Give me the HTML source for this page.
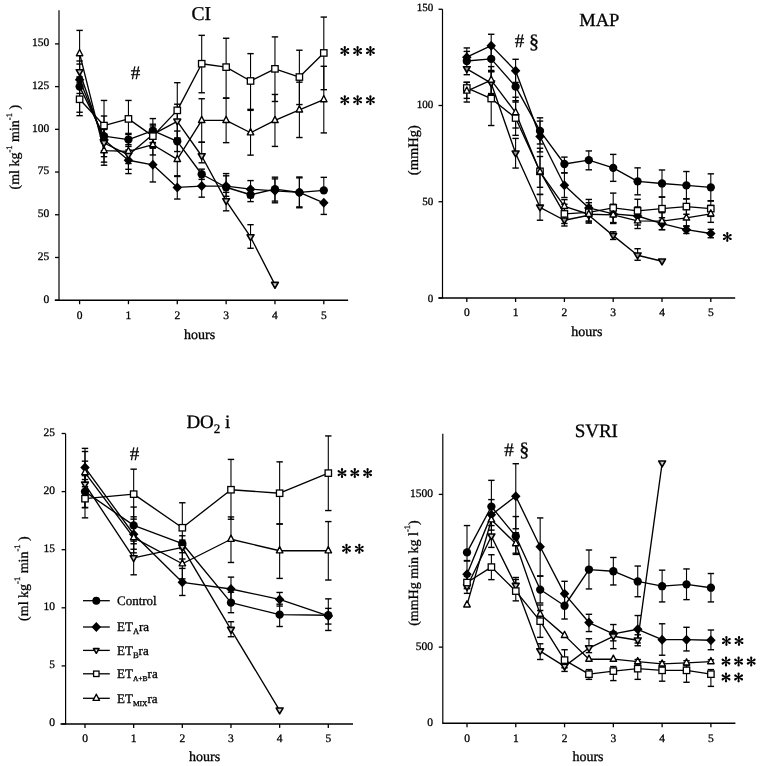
<!DOCTYPE html><html><head><meta charset="utf-8"><style>html,body{margin:0;padding:0;background:#fff;overflow:hidden;}svg{display:block;}text{font-family:"Liberation Serif", serif;fill:#000;stroke:#000;stroke-width:0.3px;text-rendering:geometricPrecision;}svg{will-change:transform;}</style></head><body>
<svg width="761" height="766" viewBox="0 0 761 766">
<rect width="761" height="766" fill="#fff"/>
<line x1="59.00" y1="10.20" x2="59.00" y2="300.80" stroke="#000" stroke-width="1.2"/>
<line x1="54.80" y1="300.20" x2="348.10" y2="300.20" stroke="#000" stroke-width="1.5"/>
<line x1="55.00" y1="300.20" x2="59.00" y2="300.20" stroke="#000" stroke-width="1.3"/>
<line x1="55.00" y1="257.48" x2="59.00" y2="257.48" stroke="#000" stroke-width="1.3"/>
<line x1="55.00" y1="214.76" x2="59.00" y2="214.76" stroke="#000" stroke-width="1.3"/>
<line x1="55.00" y1="172.05" x2="59.00" y2="172.05" stroke="#000" stroke-width="1.3"/>
<line x1="55.00" y1="129.33" x2="59.00" y2="129.33" stroke="#000" stroke-width="1.3"/>
<line x1="55.00" y1="86.61" x2="59.00" y2="86.61" stroke="#000" stroke-width="1.3"/>
<line x1="55.00" y1="43.89" x2="59.00" y2="43.89" stroke="#000" stroke-width="1.3"/>
<text x="49.20" y="302.61" font-size="11.5" text-anchor="end" >0</text>
<text x="49.20" y="259.89" font-size="11.5" text-anchor="end" >25</text>
<text x="49.20" y="217.17" font-size="11.5" text-anchor="end" >50</text>
<text x="49.20" y="174.46" font-size="11.5" text-anchor="end" >75</text>
<text x="49.20" y="131.74" font-size="11.5" text-anchor="end" >100</text>
<text x="49.20" y="89.02" font-size="11.5" text-anchor="end" >125</text>
<text x="49.20" y="46.30" font-size="11.5" text-anchor="end" >150</text>
<line x1="79.60" y1="300.20" x2="79.60" y2="304.20" stroke="#000" stroke-width="1.3"/>
<text x="79.60" y="319.00" font-size="11.5" text-anchor="middle" >0</text>
<line x1="128.44" y1="300.20" x2="128.44" y2="304.20" stroke="#000" stroke-width="1.3"/>
<text x="128.44" y="319.00" font-size="11.5" text-anchor="middle" >1</text>
<line x1="177.28" y1="300.20" x2="177.28" y2="304.20" stroke="#000" stroke-width="1.3"/>
<text x="177.28" y="319.00" font-size="11.5" text-anchor="middle" >2</text>
<line x1="226.12" y1="300.20" x2="226.12" y2="304.20" stroke="#000" stroke-width="1.3"/>
<text x="226.12" y="319.00" font-size="11.5" text-anchor="middle" >3</text>
<line x1="274.96" y1="300.20" x2="274.96" y2="304.20" stroke="#000" stroke-width="1.3"/>
<text x="274.96" y="319.00" font-size="11.5" text-anchor="middle" >4</text>
<line x1="323.80" y1="300.20" x2="323.80" y2="304.20" stroke="#000" stroke-width="1.3"/>
<text x="323.80" y="319.00" font-size="11.5" text-anchor="middle" >5</text>
<text x="199.60" y="338.70" font-size="14" text-anchor="middle" >hours</text>
<text x="201.20" y="19.70" font-size="19.5" text-anchor="middle" >CI</text>
<text transform="translate(19.40,147.20) rotate(-90)" font-size="14" text-anchor="middle">(ml kg<tspan font-size="8.5" dy="-7.5">-1</tspan><tspan dy="7.5"> min</tspan><tspan font-size="8.5" dy="-7.5">-1</tspan><tspan dy="7.5"> )</tspan></text>
<text x="135.50" y="78.60" font-size="19" text-anchor="middle" >#</text>
<path d="M345.15,51.00L345.95,47.15A1.15,1.15 0 0 0 343.65,47.15L344.45,51.00ZM344.98,50.70L342.04,48.08A1.15,1.15 0 0 0 340.89,50.07L344.62,51.30ZM344.62,50.70L340.89,51.93A1.15,1.15 0 0 0 342.04,53.92L344.98,51.30ZM344.45,51.00L343.65,54.85A1.15,1.15 0 0 0 345.95,54.85L345.15,51.00ZM344.62,51.30L347.56,53.92A1.15,1.15 0 0 0 348.71,51.93L344.98,50.70ZM344.98,51.30L348.71,50.07A1.15,1.15 0 0 0 347.56,48.08L344.62,50.70Z" fill="#000"/>
<path d="M357.95,51.00L358.75,47.15A1.15,1.15 0 0 0 356.45,47.15L357.25,51.00ZM357.78,50.70L354.84,48.08A1.15,1.15 0 0 0 353.69,50.07L357.43,51.30ZM357.43,50.70L353.69,51.93A1.15,1.15 0 0 0 354.84,53.92L357.78,51.30ZM357.25,51.00L356.45,54.85A1.15,1.15 0 0 0 358.75,54.85L357.95,51.00ZM357.43,51.30L360.36,53.92A1.15,1.15 0 0 0 361.51,51.93L357.78,50.70ZM357.78,51.30L361.51,50.07A1.15,1.15 0 0 0 360.36,48.08L357.43,50.70Z" fill="#000"/>
<path d="M370.75,51.00L371.55,47.15A1.15,1.15 0 0 0 369.25,47.15L370.05,51.00ZM370.58,50.70L367.64,48.08A1.15,1.15 0 0 0 366.49,50.07L370.23,51.30ZM370.23,50.70L366.49,51.93A1.15,1.15 0 0 0 367.64,53.92L370.58,51.30ZM370.05,51.00L369.25,54.85A1.15,1.15 0 0 0 371.55,54.85L370.75,51.00ZM370.23,51.30L373.16,53.92A1.15,1.15 0 0 0 374.31,51.93L370.58,50.70ZM370.58,51.30L374.31,50.07A1.15,1.15 0 0 0 373.16,48.08L370.23,50.70Z" fill="#000"/>
<path d="M345.15,100.20L345.95,96.35A1.15,1.15 0 0 0 343.65,96.35L344.45,100.20ZM344.98,99.90L342.04,97.28A1.15,1.15 0 0 0 340.89,99.27L344.62,100.50ZM344.62,99.90L340.89,101.13A1.15,1.15 0 0 0 342.04,103.12L344.98,100.50ZM344.45,100.20L343.65,104.05A1.15,1.15 0 0 0 345.95,104.05L345.15,100.20ZM344.62,100.50L347.56,103.12A1.15,1.15 0 0 0 348.71,101.13L344.98,99.90ZM344.98,100.50L348.71,99.27A1.15,1.15 0 0 0 347.56,97.28L344.62,99.90Z" fill="#000"/>
<path d="M357.95,100.20L358.75,96.35A1.15,1.15 0 0 0 356.45,96.35L357.25,100.20ZM357.78,99.90L354.84,97.28A1.15,1.15 0 0 0 353.69,99.27L357.43,100.50ZM357.43,99.90L353.69,101.13A1.15,1.15 0 0 0 354.84,103.12L357.78,100.50ZM357.25,100.20L356.45,104.05A1.15,1.15 0 0 0 358.75,104.05L357.95,100.20ZM357.43,100.50L360.36,103.12A1.15,1.15 0 0 0 361.51,101.13L357.78,99.90ZM357.78,100.50L361.51,99.27A1.15,1.15 0 0 0 360.36,97.28L357.43,99.90Z" fill="#000"/>
<path d="M370.75,100.20L371.55,96.35A1.15,1.15 0 0 0 369.25,96.35L370.05,100.20ZM370.58,99.90L367.64,97.28A1.15,1.15 0 0 0 366.49,99.27L370.23,100.50ZM370.23,99.90L366.49,101.13A1.15,1.15 0 0 0 367.64,103.12L370.58,100.50ZM370.05,100.20L369.25,104.05A1.15,1.15 0 0 0 371.55,104.05L370.75,100.20ZM370.23,100.50L373.16,103.12A1.15,1.15 0 0 0 374.31,101.13L370.58,99.90ZM370.58,100.50L374.31,99.27A1.15,1.15 0 0 0 373.16,97.28L370.23,99.90Z" fill="#000"/>
<line x1="79.60" y1="86.61" x2="79.60" y2="78.07" stroke="#000" stroke-width="1.1"/>
<line x1="76.40" y1="78.07" x2="82.80" y2="78.07" stroke="#000" stroke-width="1.4"/>
<line x1="79.60" y1="86.61" x2="79.60" y2="112.24" stroke="#000" stroke-width="1.1"/>
<line x1="76.40" y1="112.24" x2="82.80" y2="112.24" stroke="#000" stroke-width="1.4"/>
<line x1="104.02" y1="136.16" x2="104.02" y2="116.00" stroke="#000" stroke-width="1.1"/>
<line x1="100.82" y1="116.00" x2="107.22" y2="116.00" stroke="#000" stroke-width="1.4"/>
<line x1="104.02" y1="136.16" x2="104.02" y2="143.00" stroke="#000" stroke-width="1.1"/>
<line x1="100.82" y1="143.00" x2="107.22" y2="143.00" stroke="#000" stroke-width="1.4"/>
<line x1="128.44" y1="139.58" x2="128.44" y2="134.46" stroke="#000" stroke-width="1.1"/>
<line x1="125.24" y1="134.46" x2="131.64" y2="134.46" stroke="#000" stroke-width="1.4"/>
<line x1="128.44" y1="139.58" x2="128.44" y2="144.71" stroke="#000" stroke-width="1.1"/>
<line x1="125.24" y1="144.71" x2="131.64" y2="144.71" stroke="#000" stroke-width="1.4"/>
<line x1="152.86" y1="130.53" x2="152.86" y2="118.57" stroke="#000" stroke-width="1.1"/>
<line x1="149.66" y1="118.57" x2="156.06" y2="118.57" stroke="#000" stroke-width="1.4"/>
<line x1="152.86" y1="130.53" x2="152.86" y2="142.49" stroke="#000" stroke-width="1.1"/>
<line x1="149.66" y1="142.49" x2="156.06" y2="142.49" stroke="#000" stroke-width="1.4"/>
<line x1="177.28" y1="141.29" x2="177.28" y2="131.04" stroke="#000" stroke-width="1.1"/>
<line x1="174.08" y1="131.04" x2="180.48" y2="131.04" stroke="#000" stroke-width="1.4"/>
<line x1="177.28" y1="141.29" x2="177.28" y2="151.54" stroke="#000" stroke-width="1.1"/>
<line x1="174.08" y1="151.54" x2="180.48" y2="151.54" stroke="#000" stroke-width="1.4"/>
<line x1="201.70" y1="174.27" x2="201.70" y2="169.14" stroke="#000" stroke-width="1.1"/>
<line x1="198.50" y1="169.14" x2="204.90" y2="169.14" stroke="#000" stroke-width="1.4"/>
<line x1="201.70" y1="174.27" x2="201.70" y2="179.39" stroke="#000" stroke-width="1.1"/>
<line x1="198.50" y1="179.39" x2="204.90" y2="179.39" stroke="#000" stroke-width="1.4"/>
<line x1="226.12" y1="187.25" x2="226.12" y2="173.59" stroke="#000" stroke-width="1.1"/>
<line x1="222.92" y1="173.59" x2="229.32" y2="173.59" stroke="#000" stroke-width="1.4"/>
<line x1="250.54" y1="194.77" x2="250.54" y2="187.94" stroke="#000" stroke-width="1.1"/>
<line x1="247.34" y1="187.94" x2="253.74" y2="187.94" stroke="#000" stroke-width="1.4"/>
<line x1="250.54" y1="194.77" x2="250.54" y2="201.61" stroke="#000" stroke-width="1.1"/>
<line x1="247.34" y1="201.61" x2="253.74" y2="201.61" stroke="#000" stroke-width="1.4"/>
<line x1="274.96" y1="189.13" x2="274.96" y2="177.17" stroke="#000" stroke-width="1.1"/>
<line x1="271.76" y1="177.17" x2="278.16" y2="177.17" stroke="#000" stroke-width="1.4"/>
<line x1="274.96" y1="189.13" x2="274.96" y2="201.10" stroke="#000" stroke-width="1.1"/>
<line x1="271.76" y1="201.10" x2="278.16" y2="201.10" stroke="#000" stroke-width="1.4"/>
<line x1="299.38" y1="192.38" x2="299.38" y2="177.00" stroke="#000" stroke-width="1.1"/>
<line x1="296.18" y1="177.00" x2="302.58" y2="177.00" stroke="#000" stroke-width="1.4"/>
<line x1="299.38" y1="192.38" x2="299.38" y2="207.76" stroke="#000" stroke-width="1.1"/>
<line x1="296.18" y1="207.76" x2="302.58" y2="207.76" stroke="#000" stroke-width="1.4"/>
<line x1="323.80" y1="190.33" x2="323.80" y2="177.34" stroke="#000" stroke-width="1.1"/>
<line x1="320.60" y1="177.34" x2="327.00" y2="177.34" stroke="#000" stroke-width="1.4"/>
<line x1="79.60" y1="79.78" x2="79.60" y2="60.98" stroke="#000" stroke-width="1.1"/>
<line x1="76.40" y1="60.98" x2="82.80" y2="60.98" stroke="#000" stroke-width="1.4"/>
<line x1="79.60" y1="79.78" x2="79.60" y2="93.45" stroke="#000" stroke-width="1.1"/>
<line x1="76.40" y1="93.45" x2="82.80" y2="93.45" stroke="#000" stroke-width="1.4"/>
<line x1="104.02" y1="139.75" x2="104.02" y2="129.50" stroke="#000" stroke-width="1.1"/>
<line x1="100.82" y1="129.50" x2="107.22" y2="129.50" stroke="#000" stroke-width="1.4"/>
<line x1="104.02" y1="139.75" x2="104.02" y2="165.21" stroke="#000" stroke-width="1.1"/>
<line x1="100.82" y1="165.21" x2="107.22" y2="165.21" stroke="#000" stroke-width="1.4"/>
<line x1="128.44" y1="160.26" x2="128.44" y2="150.01" stroke="#000" stroke-width="1.1"/>
<line x1="125.24" y1="150.01" x2="131.64" y2="150.01" stroke="#000" stroke-width="1.4"/>
<line x1="128.44" y1="160.26" x2="128.44" y2="173.59" stroke="#000" stroke-width="1.1"/>
<line x1="125.24" y1="173.59" x2="131.64" y2="173.59" stroke="#000" stroke-width="1.4"/>
<line x1="152.86" y1="164.87" x2="152.86" y2="147.78" stroke="#000" stroke-width="1.1"/>
<line x1="149.66" y1="147.78" x2="156.06" y2="147.78" stroke="#000" stroke-width="1.4"/>
<line x1="152.86" y1="164.87" x2="152.86" y2="181.96" stroke="#000" stroke-width="1.1"/>
<line x1="149.66" y1="181.96" x2="156.06" y2="181.96" stroke="#000" stroke-width="1.4"/>
<line x1="177.28" y1="187.43" x2="177.28" y2="175.81" stroke="#000" stroke-width="1.1"/>
<line x1="174.08" y1="175.81" x2="180.48" y2="175.81" stroke="#000" stroke-width="1.4"/>
<line x1="177.28" y1="187.43" x2="177.28" y2="199.04" stroke="#000" stroke-width="1.1"/>
<line x1="174.08" y1="199.04" x2="180.48" y2="199.04" stroke="#000" stroke-width="1.4"/>
<line x1="201.70" y1="186.06" x2="201.70" y2="174.95" stroke="#000" stroke-width="1.1"/>
<line x1="198.50" y1="174.95" x2="204.90" y2="174.95" stroke="#000" stroke-width="1.4"/>
<line x1="201.70" y1="186.06" x2="201.70" y2="197.17" stroke="#000" stroke-width="1.1"/>
<line x1="198.50" y1="197.17" x2="204.90" y2="197.17" stroke="#000" stroke-width="1.4"/>
<line x1="226.12" y1="186.06" x2="226.12" y2="175.81" stroke="#000" stroke-width="1.1"/>
<line x1="222.92" y1="175.81" x2="229.32" y2="175.81" stroke="#000" stroke-width="1.4"/>
<line x1="226.12" y1="186.06" x2="226.12" y2="196.31" stroke="#000" stroke-width="1.1"/>
<line x1="222.92" y1="196.31" x2="229.32" y2="196.31" stroke="#000" stroke-width="1.4"/>
<line x1="250.54" y1="189.13" x2="250.54" y2="180.59" stroke="#000" stroke-width="1.1"/>
<line x1="247.34" y1="180.59" x2="253.74" y2="180.59" stroke="#000" stroke-width="1.4"/>
<line x1="250.54" y1="189.13" x2="250.54" y2="197.68" stroke="#000" stroke-width="1.1"/>
<line x1="247.34" y1="197.68" x2="253.74" y2="197.68" stroke="#000" stroke-width="1.4"/>
<line x1="274.96" y1="190.84" x2="274.96" y2="178.88" stroke="#000" stroke-width="1.1"/>
<line x1="271.76" y1="178.88" x2="278.16" y2="178.88" stroke="#000" stroke-width="1.4"/>
<line x1="274.96" y1="190.84" x2="274.96" y2="202.80" stroke="#000" stroke-width="1.1"/>
<line x1="271.76" y1="202.80" x2="278.16" y2="202.80" stroke="#000" stroke-width="1.4"/>
<line x1="299.38" y1="192.38" x2="299.38" y2="177.86" stroke="#000" stroke-width="1.1"/>
<line x1="296.18" y1="177.86" x2="302.58" y2="177.86" stroke="#000" stroke-width="1.4"/>
<line x1="299.38" y1="192.38" x2="299.38" y2="206.90" stroke="#000" stroke-width="1.1"/>
<line x1="296.18" y1="206.90" x2="302.58" y2="206.90" stroke="#000" stroke-width="1.4"/>
<line x1="323.80" y1="202.80" x2="323.80" y2="214.42" stroke="#000" stroke-width="1.1"/>
<line x1="320.60" y1="214.42" x2="327.00" y2="214.42" stroke="#000" stroke-width="1.4"/>
<line x1="79.60" y1="71.92" x2="79.60" y2="64.06" stroke="#000" stroke-width="1.1"/>
<line x1="76.40" y1="64.06" x2="82.80" y2="64.06" stroke="#000" stroke-width="1.4"/>
<line x1="79.60" y1="71.92" x2="79.60" y2="79.78" stroke="#000" stroke-width="1.1"/>
<line x1="76.40" y1="79.78" x2="82.80" y2="79.78" stroke="#000" stroke-width="1.4"/>
<line x1="104.02" y1="143.00" x2="104.02" y2="129.33" stroke="#000" stroke-width="1.1"/>
<line x1="100.82" y1="129.33" x2="107.22" y2="129.33" stroke="#000" stroke-width="1.4"/>
<line x1="104.02" y1="143.00" x2="104.02" y2="156.67" stroke="#000" stroke-width="1.1"/>
<line x1="100.82" y1="156.67" x2="107.22" y2="156.67" stroke="#000" stroke-width="1.4"/>
<line x1="128.44" y1="154.96" x2="128.44" y2="146.42" stroke="#000" stroke-width="1.1"/>
<line x1="125.24" y1="146.42" x2="131.64" y2="146.42" stroke="#000" stroke-width="1.4"/>
<line x1="128.44" y1="154.96" x2="128.44" y2="163.50" stroke="#000" stroke-width="1.1"/>
<line x1="125.24" y1="163.50" x2="131.64" y2="163.50" stroke="#000" stroke-width="1.4"/>
<line x1="152.86" y1="134.46" x2="152.86" y2="125.91" stroke="#000" stroke-width="1.1"/>
<line x1="149.66" y1="125.91" x2="156.06" y2="125.91" stroke="#000" stroke-width="1.4"/>
<line x1="152.86" y1="134.46" x2="152.86" y2="143.00" stroke="#000" stroke-width="1.1"/>
<line x1="149.66" y1="143.00" x2="156.06" y2="143.00" stroke="#000" stroke-width="1.4"/>
<line x1="177.28" y1="121.30" x2="177.28" y2="104.21" stroke="#000" stroke-width="1.1"/>
<line x1="174.08" y1="104.21" x2="180.48" y2="104.21" stroke="#000" stroke-width="1.4"/>
<line x1="177.28" y1="121.30" x2="177.28" y2="138.39" stroke="#000" stroke-width="1.1"/>
<line x1="174.08" y1="138.39" x2="180.48" y2="138.39" stroke="#000" stroke-width="1.4"/>
<line x1="201.70" y1="155.99" x2="201.70" y2="142.32" stroke="#000" stroke-width="1.1"/>
<line x1="198.50" y1="142.32" x2="204.90" y2="142.32" stroke="#000" stroke-width="1.4"/>
<line x1="201.70" y1="155.99" x2="201.70" y2="162.82" stroke="#000" stroke-width="1.1"/>
<line x1="198.50" y1="162.82" x2="204.90" y2="162.82" stroke="#000" stroke-width="1.4"/>
<line x1="226.12" y1="200.92" x2="226.12" y2="192.38" stroke="#000" stroke-width="1.1"/>
<line x1="222.92" y1="192.38" x2="229.32" y2="192.38" stroke="#000" stroke-width="1.4"/>
<line x1="226.12" y1="200.92" x2="226.12" y2="210.83" stroke="#000" stroke-width="1.1"/>
<line x1="222.92" y1="210.83" x2="229.32" y2="210.83" stroke="#000" stroke-width="1.4"/>
<line x1="250.54" y1="236.98" x2="250.54" y2="224.68" stroke="#000" stroke-width="1.1"/>
<line x1="247.34" y1="224.68" x2="253.74" y2="224.68" stroke="#000" stroke-width="1.4"/>
<line x1="250.54" y1="236.98" x2="250.54" y2="248.26" stroke="#000" stroke-width="1.1"/>
<line x1="247.34" y1="248.26" x2="253.74" y2="248.26" stroke="#000" stroke-width="1.4"/>
<line x1="79.60" y1="99.26" x2="79.60" y2="82.85" stroke="#000" stroke-width="1.1"/>
<line x1="76.40" y1="82.85" x2="82.80" y2="82.85" stroke="#000" stroke-width="1.4"/>
<line x1="79.60" y1="99.26" x2="79.60" y2="115.66" stroke="#000" stroke-width="1.1"/>
<line x1="76.40" y1="115.66" x2="82.80" y2="115.66" stroke="#000" stroke-width="1.4"/>
<line x1="104.02" y1="125.57" x2="104.02" y2="100.45" stroke="#000" stroke-width="1.1"/>
<line x1="100.82" y1="100.45" x2="107.22" y2="100.45" stroke="#000" stroke-width="1.4"/>
<line x1="104.02" y1="125.57" x2="104.02" y2="150.69" stroke="#000" stroke-width="1.1"/>
<line x1="100.82" y1="150.69" x2="107.22" y2="150.69" stroke="#000" stroke-width="1.4"/>
<line x1="128.44" y1="118.91" x2="128.44" y2="100.45" stroke="#000" stroke-width="1.1"/>
<line x1="125.24" y1="100.45" x2="131.64" y2="100.45" stroke="#000" stroke-width="1.4"/>
<line x1="128.44" y1="118.91" x2="128.44" y2="137.36" stroke="#000" stroke-width="1.1"/>
<line x1="125.24" y1="137.36" x2="131.64" y2="137.36" stroke="#000" stroke-width="1.4"/>
<line x1="152.86" y1="136.16" x2="152.86" y2="124.20" stroke="#000" stroke-width="1.1"/>
<line x1="149.66" y1="124.20" x2="156.06" y2="124.20" stroke="#000" stroke-width="1.4"/>
<line x1="152.86" y1="136.16" x2="152.86" y2="148.13" stroke="#000" stroke-width="1.1"/>
<line x1="149.66" y1="148.13" x2="156.06" y2="148.13" stroke="#000" stroke-width="1.4"/>
<line x1="177.28" y1="110.36" x2="177.28" y2="82.68" stroke="#000" stroke-width="1.1"/>
<line x1="174.08" y1="82.68" x2="180.48" y2="82.68" stroke="#000" stroke-width="1.4"/>
<line x1="177.28" y1="110.36" x2="177.28" y2="138.04" stroke="#000" stroke-width="1.1"/>
<line x1="174.08" y1="138.04" x2="180.48" y2="138.04" stroke="#000" stroke-width="1.4"/>
<line x1="201.70" y1="63.72" x2="201.70" y2="35.35" stroke="#000" stroke-width="1.1"/>
<line x1="198.50" y1="35.35" x2="204.90" y2="35.35" stroke="#000" stroke-width="1.4"/>
<line x1="201.70" y1="63.72" x2="201.70" y2="92.76" stroke="#000" stroke-width="1.1"/>
<line x1="198.50" y1="92.76" x2="204.90" y2="92.76" stroke="#000" stroke-width="1.4"/>
<line x1="226.12" y1="67.13" x2="226.12" y2="38.26" stroke="#000" stroke-width="1.1"/>
<line x1="222.92" y1="38.26" x2="229.32" y2="38.26" stroke="#000" stroke-width="1.4"/>
<line x1="226.12" y1="67.13" x2="226.12" y2="98.06" stroke="#000" stroke-width="1.1"/>
<line x1="222.92" y1="98.06" x2="229.32" y2="98.06" stroke="#000" stroke-width="1.4"/>
<line x1="250.54" y1="80.97" x2="250.54" y2="53.63" stroke="#000" stroke-width="1.1"/>
<line x1="247.34" y1="53.63" x2="253.74" y2="53.63" stroke="#000" stroke-width="1.4"/>
<line x1="250.54" y1="80.97" x2="250.54" y2="109.34" stroke="#000" stroke-width="1.1"/>
<line x1="247.34" y1="109.34" x2="253.74" y2="109.34" stroke="#000" stroke-width="1.4"/>
<line x1="274.96" y1="68.84" x2="274.96" y2="36.89" stroke="#000" stroke-width="1.1"/>
<line x1="271.76" y1="36.89" x2="278.16" y2="36.89" stroke="#000" stroke-width="1.4"/>
<line x1="274.96" y1="68.84" x2="274.96" y2="101.48" stroke="#000" stroke-width="1.1"/>
<line x1="271.76" y1="101.48" x2="278.16" y2="101.48" stroke="#000" stroke-width="1.4"/>
<line x1="299.38" y1="77.04" x2="299.38" y2="50.22" stroke="#000" stroke-width="1.1"/>
<line x1="296.18" y1="50.22" x2="302.58" y2="50.22" stroke="#000" stroke-width="1.4"/>
<line x1="299.38" y1="77.04" x2="299.38" y2="104.55" stroke="#000" stroke-width="1.1"/>
<line x1="296.18" y1="104.55" x2="302.58" y2="104.55" stroke="#000" stroke-width="1.4"/>
<line x1="323.80" y1="52.95" x2="323.80" y2="17.07" stroke="#000" stroke-width="1.1"/>
<line x1="320.60" y1="17.07" x2="327.00" y2="17.07" stroke="#000" stroke-width="1.4"/>
<line x1="323.80" y1="52.95" x2="323.80" y2="89.69" stroke="#000" stroke-width="1.1"/>
<line x1="320.60" y1="89.69" x2="327.00" y2="89.69" stroke="#000" stroke-width="1.4"/>
<line x1="79.60" y1="53.63" x2="79.60" y2="30.40" stroke="#000" stroke-width="1.1"/>
<line x1="76.40" y1="30.40" x2="82.80" y2="30.40" stroke="#000" stroke-width="1.4"/>
<line x1="79.60" y1="53.63" x2="79.60" y2="76.87" stroke="#000" stroke-width="1.1"/>
<line x1="76.40" y1="76.87" x2="82.80" y2="76.87" stroke="#000" stroke-width="1.4"/>
<line x1="104.02" y1="150.69" x2="104.02" y2="140.44" stroke="#000" stroke-width="1.1"/>
<line x1="100.82" y1="140.44" x2="107.22" y2="140.44" stroke="#000" stroke-width="1.4"/>
<line x1="104.02" y1="150.69" x2="104.02" y2="162.14" stroke="#000" stroke-width="1.1"/>
<line x1="100.82" y1="162.14" x2="107.22" y2="162.14" stroke="#000" stroke-width="1.4"/>
<line x1="128.44" y1="151.37" x2="128.44" y2="133.43" stroke="#000" stroke-width="1.1"/>
<line x1="125.24" y1="133.43" x2="131.64" y2="133.43" stroke="#000" stroke-width="1.4"/>
<line x1="128.44" y1="151.37" x2="128.44" y2="169.31" stroke="#000" stroke-width="1.1"/>
<line x1="125.24" y1="169.31" x2="131.64" y2="169.31" stroke="#000" stroke-width="1.4"/>
<line x1="152.86" y1="144.71" x2="152.86" y2="134.46" stroke="#000" stroke-width="1.1"/>
<line x1="149.66" y1="134.46" x2="156.06" y2="134.46" stroke="#000" stroke-width="1.4"/>
<line x1="152.86" y1="144.71" x2="152.86" y2="154.96" stroke="#000" stroke-width="1.1"/>
<line x1="149.66" y1="154.96" x2="156.06" y2="154.96" stroke="#000" stroke-width="1.4"/>
<line x1="177.28" y1="159.40" x2="177.28" y2="142.32" stroke="#000" stroke-width="1.1"/>
<line x1="174.08" y1="142.32" x2="180.48" y2="142.32" stroke="#000" stroke-width="1.4"/>
<line x1="177.28" y1="159.40" x2="177.28" y2="176.49" stroke="#000" stroke-width="1.1"/>
<line x1="174.08" y1="176.49" x2="180.48" y2="176.49" stroke="#000" stroke-width="1.4"/>
<line x1="201.70" y1="120.44" x2="201.70" y2="98.74" stroke="#000" stroke-width="1.1"/>
<line x1="198.50" y1="98.74" x2="204.90" y2="98.74" stroke="#000" stroke-width="1.4"/>
<line x1="201.70" y1="120.44" x2="201.70" y2="142.15" stroke="#000" stroke-width="1.1"/>
<line x1="198.50" y1="142.15" x2="204.90" y2="142.15" stroke="#000" stroke-width="1.4"/>
<line x1="226.12" y1="120.44" x2="226.12" y2="98.23" stroke="#000" stroke-width="1.1"/>
<line x1="222.92" y1="98.23" x2="229.32" y2="98.23" stroke="#000" stroke-width="1.4"/>
<line x1="226.12" y1="120.44" x2="226.12" y2="142.66" stroke="#000" stroke-width="1.1"/>
<line x1="222.92" y1="142.66" x2="229.32" y2="142.66" stroke="#000" stroke-width="1.4"/>
<line x1="250.54" y1="132.75" x2="250.54" y2="110.36" stroke="#000" stroke-width="1.1"/>
<line x1="247.34" y1="110.36" x2="253.74" y2="110.36" stroke="#000" stroke-width="1.4"/>
<line x1="250.54" y1="132.75" x2="250.54" y2="155.13" stroke="#000" stroke-width="1.1"/>
<line x1="247.34" y1="155.13" x2="253.74" y2="155.13" stroke="#000" stroke-width="1.4"/>
<line x1="274.96" y1="120.44" x2="274.96" y2="94.47" stroke="#000" stroke-width="1.1"/>
<line x1="271.76" y1="94.47" x2="278.16" y2="94.47" stroke="#000" stroke-width="1.4"/>
<line x1="274.96" y1="120.44" x2="274.96" y2="146.42" stroke="#000" stroke-width="1.1"/>
<line x1="271.76" y1="146.42" x2="278.16" y2="146.42" stroke="#000" stroke-width="1.4"/>
<line x1="299.38" y1="109.85" x2="299.38" y2="82.17" stroke="#000" stroke-width="1.1"/>
<line x1="296.18" y1="82.17" x2="302.58" y2="82.17" stroke="#000" stroke-width="1.4"/>
<line x1="299.38" y1="109.85" x2="299.38" y2="137.53" stroke="#000" stroke-width="1.1"/>
<line x1="296.18" y1="137.53" x2="302.58" y2="137.53" stroke="#000" stroke-width="1.4"/>
<line x1="323.80" y1="99.60" x2="323.80" y2="66.28" stroke="#000" stroke-width="1.1"/>
<line x1="320.60" y1="66.28" x2="327.00" y2="66.28" stroke="#000" stroke-width="1.4"/>
<line x1="323.80" y1="99.60" x2="323.80" y2="132.92" stroke="#000" stroke-width="1.1"/>
<line x1="320.60" y1="132.92" x2="327.00" y2="132.92" stroke="#000" stroke-width="1.4"/>
<polyline fill="none" stroke="#000" stroke-width="1.35" stroke-linejoin="round" points="79.60,86.61 104.02,136.16 128.44,139.58 152.86,130.53 177.28,141.29 201.70,174.27 226.12,187.25 250.54,194.77 274.96,189.13 299.38,192.38 323.80,190.33"/>
<polyline fill="none" stroke="#000" stroke-width="1.35" stroke-linejoin="round" points="79.60,79.78 104.02,139.75 128.44,160.26 152.86,164.87 177.28,187.43 201.70,186.06 226.12,186.06 250.54,189.13 274.96,190.84 299.38,192.38 323.80,202.80"/>
<polyline fill="none" stroke="#000" stroke-width="1.35" stroke-linejoin="round" points="79.60,71.92 104.02,143.00 128.44,154.96 152.86,134.46 177.28,121.30 201.70,155.99 226.12,200.92 250.54,236.98 274.96,284.65"/>
<polyline fill="none" stroke="#000" stroke-width="1.35" stroke-linejoin="round" points="79.60,99.26 104.02,125.57 128.44,118.91 152.86,136.16 177.28,110.36 201.70,63.72 226.12,67.13 250.54,80.97 274.96,68.84 299.38,77.04 323.80,52.95"/>
<polyline fill="none" stroke="#000" stroke-width="1.35" stroke-linejoin="round" points="79.60,53.63 104.02,150.69 128.44,151.37 152.86,144.71 177.28,159.40 201.70,120.44 226.12,120.44 250.54,132.75 274.96,120.44 299.38,109.85 323.80,99.60"/>
<circle cx="79.60" cy="86.61" r="4.15" fill="#000"/>
<circle cx="104.02" cy="136.16" r="4.15" fill="#000"/>
<circle cx="128.44" cy="139.58" r="4.15" fill="#000"/>
<circle cx="152.86" cy="130.53" r="4.15" fill="#000"/>
<circle cx="177.28" cy="141.29" r="4.15" fill="#000"/>
<circle cx="201.70" cy="174.27" r="4.15" fill="#000"/>
<circle cx="226.12" cy="187.25" r="4.15" fill="#000"/>
<circle cx="250.54" cy="194.77" r="4.15" fill="#000"/>
<circle cx="274.96" cy="189.13" r="4.15" fill="#000"/>
<circle cx="299.38" cy="192.38" r="4.15" fill="#000"/>
<circle cx="323.80" cy="190.33" r="4.15" fill="#000"/>
<path d="M79.60,74.78L84.35,79.78L79.60,84.78L74.85,79.78Z" fill="#000"/>
<path d="M104.02,134.75L108.77,139.75L104.02,144.75L99.27,139.75Z" fill="#000"/>
<path d="M128.44,155.26L133.19,160.26L128.44,165.26L123.69,160.26Z" fill="#000"/>
<path d="M152.86,159.87L157.61,164.87L152.86,169.87L148.11,164.87Z" fill="#000"/>
<path d="M177.28,182.43L182.03,187.43L177.28,192.43L172.53,187.43Z" fill="#000"/>
<path d="M201.70,181.06L206.45,186.06L201.70,191.06L196.95,186.06Z" fill="#000"/>
<path d="M226.12,181.06L230.87,186.06L226.12,191.06L221.37,186.06Z" fill="#000"/>
<path d="M250.54,184.13L255.29,189.13L250.54,194.13L245.79,189.13Z" fill="#000"/>
<path d="M274.96,185.84L279.71,190.84L274.96,195.84L270.21,190.84Z" fill="#000"/>
<path d="M299.38,187.38L304.13,192.38L299.38,197.38L294.63,192.38Z" fill="#000"/>
<path d="M323.80,197.80L328.55,202.80L323.80,207.80L319.05,202.80Z" fill="#000"/>
<path d="M79.60,75.52L83.02,69.69L76.18,69.69Z" fill="#ccc" stroke="#000" stroke-width="1.6" stroke-linejoin="round"/>
<path d="M104.02,146.60L107.44,140.77L100.60,140.77Z" fill="#ccc" stroke="#000" stroke-width="1.6" stroke-linejoin="round"/>
<path d="M128.44,158.56L131.86,152.73L125.02,152.73Z" fill="#ccc" stroke="#000" stroke-width="1.6" stroke-linejoin="round"/>
<path d="M152.86,138.06L156.28,132.22L149.44,132.22Z" fill="#ccc" stroke="#000" stroke-width="1.6" stroke-linejoin="round"/>
<path d="M177.28,124.90L180.70,119.07L173.86,119.07Z" fill="#ccc" stroke="#000" stroke-width="1.6" stroke-linejoin="round"/>
<path d="M201.70,159.59L205.12,153.75L198.28,153.75Z" fill="#ccc" stroke="#000" stroke-width="1.6" stroke-linejoin="round"/>
<path d="M226.12,204.52L229.54,198.69L222.70,198.69Z" fill="#ccc" stroke="#000" stroke-width="1.6" stroke-linejoin="round"/>
<path d="M250.54,240.58L253.96,234.75L247.12,234.75Z" fill="#ccc" stroke="#000" stroke-width="1.6" stroke-linejoin="round"/>
<path d="M274.96,288.25L278.38,282.42L271.54,282.42Z" fill="#ccc" stroke="#000" stroke-width="1.6" stroke-linejoin="round"/>
<rect x="76.40" y="96.06" width="6.40" height="6.40" fill="#fff" stroke="#000" stroke-width="1.3"/>
<rect x="100.82" y="122.37" width="6.40" height="6.40" fill="#fff" stroke="#000" stroke-width="1.3"/>
<rect x="125.24" y="115.71" width="6.40" height="6.40" fill="#fff" stroke="#000" stroke-width="1.3"/>
<rect x="149.66" y="132.96" width="6.40" height="6.40" fill="#fff" stroke="#000" stroke-width="1.3"/>
<rect x="174.08" y="107.16" width="6.40" height="6.40" fill="#fff" stroke="#000" stroke-width="1.3"/>
<rect x="198.50" y="60.52" width="6.40" height="6.40" fill="#fff" stroke="#000" stroke-width="1.3"/>
<rect x="222.92" y="63.93" width="6.40" height="6.40" fill="#fff" stroke="#000" stroke-width="1.3"/>
<rect x="247.34" y="77.77" width="6.40" height="6.40" fill="#fff" stroke="#000" stroke-width="1.3"/>
<rect x="271.76" y="65.64" width="6.40" height="6.40" fill="#fff" stroke="#000" stroke-width="1.3"/>
<rect x="296.18" y="73.84" width="6.40" height="6.40" fill="#fff" stroke="#000" stroke-width="1.3"/>
<rect x="320.60" y="49.75" width="6.40" height="6.40" fill="#fff" stroke="#000" stroke-width="1.3"/>
<path d="M79.60,49.55L82.83,55.74L76.37,55.74Z" fill="#fff" stroke="#000" stroke-width="1.4" stroke-linejoin="round"/>
<path d="M104.02,146.61L107.25,152.80L100.79,152.80Z" fill="#fff" stroke="#000" stroke-width="1.4" stroke-linejoin="round"/>
<path d="M128.44,147.29L131.67,153.48L125.21,153.48Z" fill="#fff" stroke="#000" stroke-width="1.4" stroke-linejoin="round"/>
<path d="M152.86,140.63L156.09,146.82L149.63,146.82Z" fill="#fff" stroke="#000" stroke-width="1.4" stroke-linejoin="round"/>
<path d="M177.28,155.32L180.51,161.51L174.05,161.51Z" fill="#fff" stroke="#000" stroke-width="1.4" stroke-linejoin="round"/>
<path d="M201.70,116.36L204.93,122.55L198.47,122.55Z" fill="#fff" stroke="#000" stroke-width="1.4" stroke-linejoin="round"/>
<path d="M226.12,116.36L229.35,122.55L222.89,122.55Z" fill="#fff" stroke="#000" stroke-width="1.4" stroke-linejoin="round"/>
<path d="M250.54,128.67L253.77,134.86L247.31,134.86Z" fill="#fff" stroke="#000" stroke-width="1.4" stroke-linejoin="round"/>
<path d="M274.96,116.36L278.19,122.55L271.73,122.55Z" fill="#fff" stroke="#000" stroke-width="1.4" stroke-linejoin="round"/>
<path d="M299.38,105.77L302.61,111.96L296.15,111.96Z" fill="#fff" stroke="#000" stroke-width="1.4" stroke-linejoin="round"/>
<path d="M323.80,95.52L327.03,101.71L320.57,101.71Z" fill="#fff" stroke="#000" stroke-width="1.4" stroke-linejoin="round"/>
<line x1="442.50" y1="9.20" x2="442.50" y2="298.60" stroke="#000" stroke-width="1.2"/>
<line x1="438.50" y1="298.00" x2="735.20" y2="298.00" stroke="#000" stroke-width="1.5"/>
<line x1="438.50" y1="298.00" x2="442.50" y2="298.00" stroke="#000" stroke-width="1.3"/>
<line x1="438.50" y1="201.75" x2="442.50" y2="201.75" stroke="#000" stroke-width="1.3"/>
<line x1="438.50" y1="105.50" x2="442.50" y2="105.50" stroke="#000" stroke-width="1.3"/>
<line x1="438.50" y1="9.25" x2="442.50" y2="9.25" stroke="#000" stroke-width="1.3"/>
<text x="433.30" y="302.14" font-size="11" text-anchor="end" >0</text>
<text x="433.30" y="205.14" font-size="11" text-anchor="end" >50</text>
<text x="433.30" y="108.04" font-size="11" text-anchor="end" >100</text>
<text x="433.30" y="10.94" font-size="11" text-anchor="end" >150</text>
<line x1="466.80" y1="298.00" x2="466.80" y2="302.00" stroke="#000" stroke-width="1.3"/>
<text x="466.80" y="316.40" font-size="11.5" text-anchor="middle" >0</text>
<line x1="515.60" y1="298.00" x2="515.60" y2="302.00" stroke="#000" stroke-width="1.3"/>
<text x="515.60" y="316.40" font-size="11.5" text-anchor="middle" >1</text>
<line x1="564.40" y1="298.00" x2="564.40" y2="302.00" stroke="#000" stroke-width="1.3"/>
<text x="564.40" y="316.40" font-size="11.5" text-anchor="middle" >2</text>
<line x1="613.20" y1="298.00" x2="613.20" y2="302.00" stroke="#000" stroke-width="1.3"/>
<text x="613.20" y="316.40" font-size="11.5" text-anchor="middle" >3</text>
<line x1="662.00" y1="298.00" x2="662.00" y2="302.00" stroke="#000" stroke-width="1.3"/>
<text x="662.00" y="316.40" font-size="11.5" text-anchor="middle" >4</text>
<line x1="710.80" y1="298.00" x2="710.80" y2="302.00" stroke="#000" stroke-width="1.3"/>
<text x="710.80" y="316.40" font-size="11.5" text-anchor="middle" >5</text>
<text x="586.80" y="335.90" font-size="14" text-anchor="middle" >hours</text>
<text x="599.30" y="25.80" font-size="18.5" text-anchor="middle" >MAP</text>
<text transform="translate(418.00,150.20) rotate(-90)" font-size="14.5" text-anchor="middle">(mmHg)</text>
<text x="519.60" y="46.60" font-size="19" text-anchor="middle" >#</text>
<text x="533.90" y="48.30" font-size="20" text-anchor="middle" >§</text>
<path d="M727.65,237.00L728.45,233.15A1.15,1.15 0 0 0 726.15,233.15L726.95,237.00ZM727.47,236.70L724.54,234.08A1.15,1.15 0 0 0 723.39,236.07L727.12,237.30ZM727.12,236.70L723.39,237.93A1.15,1.15 0 0 0 724.54,239.92L727.47,237.30ZM726.95,237.00L726.15,240.85A1.15,1.15 0 0 0 728.45,240.85L727.65,237.00ZM727.12,237.30L730.06,239.92A1.15,1.15 0 0 0 731.21,237.93L727.47,236.70ZM727.47,237.30L731.21,236.07A1.15,1.15 0 0 0 730.06,234.08L727.12,236.70Z" fill="#000"/>
<line x1="466.80" y1="61.03" x2="466.80" y2="51.41" stroke="#000" stroke-width="1.1"/>
<line x1="463.60" y1="51.41" x2="470.00" y2="51.41" stroke="#000" stroke-width="1.4"/>
<line x1="491.20" y1="58.91" x2="491.20" y2="47.37" stroke="#000" stroke-width="1.1"/>
<line x1="488.00" y1="47.37" x2="494.40" y2="47.37" stroke="#000" stroke-width="1.4"/>
<line x1="491.20" y1="58.91" x2="491.20" y2="70.47" stroke="#000" stroke-width="1.1"/>
<line x1="488.00" y1="70.47" x2="494.40" y2="70.47" stroke="#000" stroke-width="1.4"/>
<line x1="515.60" y1="86.63" x2="515.60" y2="71.24" stroke="#000" stroke-width="1.1"/>
<line x1="512.40" y1="71.24" x2="518.80" y2="71.24" stroke="#000" stroke-width="1.4"/>
<line x1="515.60" y1="86.63" x2="515.60" y2="102.03" stroke="#000" stroke-width="1.1"/>
<line x1="512.40" y1="102.03" x2="518.80" y2="102.03" stroke="#000" stroke-width="1.4"/>
<line x1="540.00" y1="130.91" x2="540.00" y2="117.82" stroke="#000" stroke-width="1.1"/>
<line x1="536.80" y1="117.82" x2="543.20" y2="117.82" stroke="#000" stroke-width="1.4"/>
<line x1="540.00" y1="130.91" x2="540.00" y2="144.00" stroke="#000" stroke-width="1.1"/>
<line x1="536.80" y1="144.00" x2="543.20" y2="144.00" stroke="#000" stroke-width="1.4"/>
<line x1="564.40" y1="164.02" x2="564.40" y2="157.09" stroke="#000" stroke-width="1.1"/>
<line x1="561.20" y1="157.09" x2="567.60" y2="157.09" stroke="#000" stroke-width="1.4"/>
<line x1="564.40" y1="164.02" x2="564.40" y2="172.88" stroke="#000" stroke-width="1.1"/>
<line x1="561.20" y1="172.88" x2="567.60" y2="172.88" stroke="#000" stroke-width="1.4"/>
<line x1="588.80" y1="160.17" x2="588.80" y2="150.93" stroke="#000" stroke-width="1.1"/>
<line x1="585.60" y1="150.93" x2="592.00" y2="150.93" stroke="#000" stroke-width="1.4"/>
<line x1="588.80" y1="160.17" x2="588.80" y2="169.80" stroke="#000" stroke-width="1.1"/>
<line x1="585.60" y1="169.80" x2="592.00" y2="169.80" stroke="#000" stroke-width="1.4"/>
<line x1="613.20" y1="167.87" x2="613.20" y2="154.40" stroke="#000" stroke-width="1.1"/>
<line x1="610.00" y1="154.40" x2="616.40" y2="154.40" stroke="#000" stroke-width="1.4"/>
<line x1="613.20" y1="167.87" x2="613.20" y2="181.35" stroke="#000" stroke-width="1.1"/>
<line x1="610.00" y1="181.35" x2="616.40" y2="181.35" stroke="#000" stroke-width="1.4"/>
<line x1="637.60" y1="181.34" x2="637.60" y2="167.87" stroke="#000" stroke-width="1.1"/>
<line x1="634.40" y1="167.87" x2="640.80" y2="167.87" stroke="#000" stroke-width="1.4"/>
<line x1="637.60" y1="181.34" x2="637.60" y2="194.82" stroke="#000" stroke-width="1.1"/>
<line x1="634.40" y1="194.82" x2="640.80" y2="194.82" stroke="#000" stroke-width="1.4"/>
<line x1="662.00" y1="183.46" x2="662.00" y2="169.99" stroke="#000" stroke-width="1.1"/>
<line x1="658.80" y1="169.99" x2="665.20" y2="169.99" stroke="#000" stroke-width="1.4"/>
<line x1="662.00" y1="183.46" x2="662.00" y2="196.94" stroke="#000" stroke-width="1.1"/>
<line x1="658.80" y1="196.94" x2="665.20" y2="196.94" stroke="#000" stroke-width="1.4"/>
<line x1="686.40" y1="185.39" x2="686.40" y2="171.53" stroke="#000" stroke-width="1.1"/>
<line x1="683.20" y1="171.53" x2="689.60" y2="171.53" stroke="#000" stroke-width="1.4"/>
<line x1="686.40" y1="185.39" x2="686.40" y2="198.86" stroke="#000" stroke-width="1.1"/>
<line x1="683.20" y1="198.86" x2="689.60" y2="198.86" stroke="#000" stroke-width="1.4"/>
<line x1="710.80" y1="187.31" x2="710.80" y2="173.84" stroke="#000" stroke-width="1.1"/>
<line x1="707.60" y1="173.84" x2="714.00" y2="173.84" stroke="#000" stroke-width="1.4"/>
<line x1="710.80" y1="187.31" x2="710.80" y2="200.79" stroke="#000" stroke-width="1.1"/>
<line x1="707.60" y1="200.79" x2="714.00" y2="200.79" stroke="#000" stroke-width="1.4"/>
<line x1="466.80" y1="57.18" x2="466.80" y2="47.94" stroke="#000" stroke-width="1.1"/>
<line x1="463.60" y1="47.94" x2="470.00" y2="47.94" stroke="#000" stroke-width="1.4"/>
<line x1="491.20" y1="45.63" x2="491.20" y2="34.27" stroke="#000" stroke-width="1.1"/>
<line x1="488.00" y1="34.27" x2="494.40" y2="34.27" stroke="#000" stroke-width="1.4"/>
<line x1="491.20" y1="45.63" x2="491.20" y2="56.99" stroke="#000" stroke-width="1.1"/>
<line x1="488.00" y1="56.99" x2="494.40" y2="56.99" stroke="#000" stroke-width="1.4"/>
<line x1="515.60" y1="70.85" x2="515.60" y2="59.30" stroke="#000" stroke-width="1.1"/>
<line x1="512.40" y1="59.30" x2="518.80" y2="59.30" stroke="#000" stroke-width="1.4"/>
<line x1="515.60" y1="70.85" x2="515.60" y2="82.40" stroke="#000" stroke-width="1.1"/>
<line x1="512.40" y1="82.40" x2="518.80" y2="82.40" stroke="#000" stroke-width="1.4"/>
<line x1="540.00" y1="136.49" x2="540.00" y2="121.09" stroke="#000" stroke-width="1.1"/>
<line x1="536.80" y1="121.09" x2="543.20" y2="121.09" stroke="#000" stroke-width="1.4"/>
<line x1="540.00" y1="136.49" x2="540.00" y2="151.89" stroke="#000" stroke-width="1.1"/>
<line x1="536.80" y1="151.89" x2="543.20" y2="151.89" stroke="#000" stroke-width="1.4"/>
<line x1="564.40" y1="185.19" x2="564.40" y2="172.88" stroke="#000" stroke-width="1.1"/>
<line x1="561.20" y1="172.88" x2="567.60" y2="172.88" stroke="#000" stroke-width="1.4"/>
<line x1="564.40" y1="185.19" x2="564.40" y2="197.51" stroke="#000" stroke-width="1.1"/>
<line x1="561.20" y1="197.51" x2="567.60" y2="197.51" stroke="#000" stroke-width="1.4"/>
<line x1="588.80" y1="207.91" x2="588.80" y2="199.44" stroke="#000" stroke-width="1.1"/>
<line x1="585.60" y1="199.44" x2="592.00" y2="199.44" stroke="#000" stroke-width="1.4"/>
<line x1="588.80" y1="207.91" x2="588.80" y2="216.38" stroke="#000" stroke-width="1.1"/>
<line x1="585.60" y1="216.38" x2="592.00" y2="216.38" stroke="#000" stroke-width="1.4"/>
<line x1="613.20" y1="213.88" x2="613.20" y2="204.25" stroke="#000" stroke-width="1.1"/>
<line x1="610.00" y1="204.25" x2="616.40" y2="204.25" stroke="#000" stroke-width="1.4"/>
<line x1="613.20" y1="213.88" x2="613.20" y2="223.50" stroke="#000" stroke-width="1.1"/>
<line x1="610.00" y1="223.50" x2="616.40" y2="223.50" stroke="#000" stroke-width="1.4"/>
<line x1="637.60" y1="216.00" x2="637.60" y2="206.95" stroke="#000" stroke-width="1.1"/>
<line x1="634.40" y1="206.95" x2="640.80" y2="206.95" stroke="#000" stroke-width="1.4"/>
<line x1="637.60" y1="216.00" x2="637.60" y2="225.04" stroke="#000" stroke-width="1.1"/>
<line x1="634.40" y1="225.04" x2="640.80" y2="225.04" stroke="#000" stroke-width="1.4"/>
<line x1="662.00" y1="223.69" x2="662.00" y2="217.73" stroke="#000" stroke-width="1.1"/>
<line x1="658.80" y1="217.73" x2="665.20" y2="217.73" stroke="#000" stroke-width="1.4"/>
<line x1="662.00" y1="223.69" x2="662.00" y2="229.66" stroke="#000" stroke-width="1.1"/>
<line x1="658.80" y1="229.66" x2="665.20" y2="229.66" stroke="#000" stroke-width="1.4"/>
<line x1="686.40" y1="229.66" x2="686.40" y2="225.81" stroke="#000" stroke-width="1.1"/>
<line x1="683.20" y1="225.81" x2="689.60" y2="225.81" stroke="#000" stroke-width="1.4"/>
<line x1="686.40" y1="229.66" x2="686.40" y2="233.51" stroke="#000" stroke-width="1.1"/>
<line x1="683.20" y1="233.51" x2="689.60" y2="233.51" stroke="#000" stroke-width="1.4"/>
<line x1="710.80" y1="233.51" x2="710.80" y2="229.28" stroke="#000" stroke-width="1.1"/>
<line x1="707.60" y1="229.28" x2="714.00" y2="229.28" stroke="#000" stroke-width="1.4"/>
<line x1="710.80" y1="233.51" x2="710.80" y2="237.75" stroke="#000" stroke-width="1.1"/>
<line x1="707.60" y1="237.75" x2="714.00" y2="237.75" stroke="#000" stroke-width="1.4"/>
<line x1="466.80" y1="68.92" x2="466.80" y2="63.15" stroke="#000" stroke-width="1.1"/>
<line x1="463.60" y1="63.15" x2="470.00" y2="63.15" stroke="#000" stroke-width="1.4"/>
<line x1="466.80" y1="68.92" x2="466.80" y2="74.70" stroke="#000" stroke-width="1.1"/>
<line x1="463.60" y1="74.70" x2="470.00" y2="74.70" stroke="#000" stroke-width="1.4"/>
<line x1="491.20" y1="83.17" x2="491.20" y2="71.62" stroke="#000" stroke-width="1.1"/>
<line x1="488.00" y1="71.62" x2="494.40" y2="71.62" stroke="#000" stroke-width="1.4"/>
<line x1="491.20" y1="83.17" x2="491.20" y2="94.72" stroke="#000" stroke-width="1.1"/>
<line x1="488.00" y1="94.72" x2="494.40" y2="94.72" stroke="#000" stroke-width="1.4"/>
<line x1="515.60" y1="153.24" x2="515.60" y2="138.42" stroke="#000" stroke-width="1.1"/>
<line x1="512.40" y1="138.42" x2="518.80" y2="138.42" stroke="#000" stroke-width="1.4"/>
<line x1="515.60" y1="153.24" x2="515.60" y2="168.06" stroke="#000" stroke-width="1.1"/>
<line x1="512.40" y1="168.06" x2="518.80" y2="168.06" stroke="#000" stroke-width="1.4"/>
<line x1="540.00" y1="207.33" x2="540.00" y2="194.44" stroke="#000" stroke-width="1.1"/>
<line x1="536.80" y1="194.44" x2="543.20" y2="194.44" stroke="#000" stroke-width="1.4"/>
<line x1="540.00" y1="207.33" x2="540.00" y2="220.23" stroke="#000" stroke-width="1.1"/>
<line x1="536.80" y1="220.23" x2="543.20" y2="220.23" stroke="#000" stroke-width="1.4"/>
<line x1="564.40" y1="220.23" x2="564.40" y2="214.45" stroke="#000" stroke-width="1.1"/>
<line x1="561.20" y1="214.45" x2="567.60" y2="214.45" stroke="#000" stroke-width="1.4"/>
<line x1="564.40" y1="220.23" x2="564.40" y2="226.00" stroke="#000" stroke-width="1.1"/>
<line x1="561.20" y1="226.00" x2="567.60" y2="226.00" stroke="#000" stroke-width="1.4"/>
<line x1="588.80" y1="215.22" x2="588.80" y2="209.45" stroke="#000" stroke-width="1.1"/>
<line x1="585.60" y1="209.45" x2="592.00" y2="209.45" stroke="#000" stroke-width="1.4"/>
<line x1="588.80" y1="215.22" x2="588.80" y2="221.00" stroke="#000" stroke-width="1.1"/>
<line x1="585.60" y1="221.00" x2="592.00" y2="221.00" stroke="#000" stroke-width="1.4"/>
<line x1="613.20" y1="235.63" x2="613.20" y2="231.78" stroke="#000" stroke-width="1.1"/>
<line x1="610.00" y1="231.78" x2="616.40" y2="231.78" stroke="#000" stroke-width="1.4"/>
<line x1="613.20" y1="235.63" x2="613.20" y2="239.48" stroke="#000" stroke-width="1.1"/>
<line x1="610.00" y1="239.48" x2="616.40" y2="239.48" stroke="#000" stroke-width="1.4"/>
<line x1="637.60" y1="255.26" x2="637.60" y2="248.72" stroke="#000" stroke-width="1.1"/>
<line x1="634.40" y1="248.72" x2="640.80" y2="248.72" stroke="#000" stroke-width="1.4"/>
<line x1="637.60" y1="255.26" x2="637.60" y2="260.27" stroke="#000" stroke-width="1.1"/>
<line x1="634.40" y1="260.27" x2="640.80" y2="260.27" stroke="#000" stroke-width="1.4"/>
<line x1="466.80" y1="87.98" x2="466.80" y2="82.21" stroke="#000" stroke-width="1.1"/>
<line x1="463.60" y1="82.21" x2="470.00" y2="82.21" stroke="#000" stroke-width="1.4"/>
<line x1="466.80" y1="87.98" x2="466.80" y2="98.38" stroke="#000" stroke-width="1.1"/>
<line x1="463.60" y1="98.38" x2="470.00" y2="98.38" stroke="#000" stroke-width="1.4"/>
<line x1="491.20" y1="98.57" x2="491.20" y2="71.62" stroke="#000" stroke-width="1.1"/>
<line x1="488.00" y1="71.62" x2="494.40" y2="71.62" stroke="#000" stroke-width="1.4"/>
<line x1="491.20" y1="98.57" x2="491.20" y2="125.52" stroke="#000" stroke-width="1.1"/>
<line x1="488.00" y1="125.52" x2="494.40" y2="125.52" stroke="#000" stroke-width="1.4"/>
<line x1="515.60" y1="118.01" x2="515.60" y2="100.69" stroke="#000" stroke-width="1.1"/>
<line x1="512.40" y1="100.69" x2="518.80" y2="100.69" stroke="#000" stroke-width="1.4"/>
<line x1="515.60" y1="118.01" x2="515.60" y2="135.34" stroke="#000" stroke-width="1.1"/>
<line x1="512.40" y1="135.34" x2="518.80" y2="135.34" stroke="#000" stroke-width="1.4"/>
<line x1="540.00" y1="171.34" x2="540.00" y2="148.24" stroke="#000" stroke-width="1.1"/>
<line x1="536.80" y1="148.24" x2="543.20" y2="148.24" stroke="#000" stroke-width="1.4"/>
<line x1="540.00" y1="171.34" x2="540.00" y2="194.44" stroke="#000" stroke-width="1.1"/>
<line x1="536.80" y1="194.44" x2="543.20" y2="194.44" stroke="#000" stroke-width="1.4"/>
<line x1="564.40" y1="213.88" x2="564.40" y2="204.25" stroke="#000" stroke-width="1.1"/>
<line x1="561.20" y1="204.25" x2="567.60" y2="204.25" stroke="#000" stroke-width="1.4"/>
<line x1="564.40" y1="213.88" x2="564.40" y2="223.50" stroke="#000" stroke-width="1.1"/>
<line x1="561.20" y1="223.50" x2="567.60" y2="223.50" stroke="#000" stroke-width="1.4"/>
<line x1="588.80" y1="212.34" x2="588.80" y2="202.71" stroke="#000" stroke-width="1.1"/>
<line x1="585.60" y1="202.71" x2="592.00" y2="202.71" stroke="#000" stroke-width="1.4"/>
<line x1="588.80" y1="212.34" x2="588.80" y2="221.96" stroke="#000" stroke-width="1.1"/>
<line x1="585.60" y1="221.96" x2="592.00" y2="221.96" stroke="#000" stroke-width="1.4"/>
<line x1="613.20" y1="207.91" x2="613.20" y2="193.09" stroke="#000" stroke-width="1.1"/>
<line x1="610.00" y1="193.09" x2="616.40" y2="193.09" stroke="#000" stroke-width="1.4"/>
<line x1="613.20" y1="207.91" x2="613.20" y2="222.73" stroke="#000" stroke-width="1.1"/>
<line x1="610.00" y1="222.73" x2="616.40" y2="222.73" stroke="#000" stroke-width="1.4"/>
<line x1="637.60" y1="210.80" x2="637.60" y2="199.25" stroke="#000" stroke-width="1.1"/>
<line x1="634.40" y1="199.25" x2="640.80" y2="199.25" stroke="#000" stroke-width="1.4"/>
<line x1="637.60" y1="210.80" x2="637.60" y2="222.35" stroke="#000" stroke-width="1.1"/>
<line x1="634.40" y1="222.35" x2="640.80" y2="222.35" stroke="#000" stroke-width="1.4"/>
<line x1="662.00" y1="208.68" x2="662.00" y2="197.13" stroke="#000" stroke-width="1.1"/>
<line x1="658.80" y1="197.13" x2="665.20" y2="197.13" stroke="#000" stroke-width="1.4"/>
<line x1="662.00" y1="208.68" x2="662.00" y2="220.23" stroke="#000" stroke-width="1.1"/>
<line x1="658.80" y1="220.23" x2="665.20" y2="220.23" stroke="#000" stroke-width="1.4"/>
<line x1="686.40" y1="206.56" x2="686.40" y2="198.86" stroke="#000" stroke-width="1.1"/>
<line x1="683.20" y1="198.86" x2="689.60" y2="198.86" stroke="#000" stroke-width="1.4"/>
<line x1="686.40" y1="206.56" x2="686.40" y2="214.26" stroke="#000" stroke-width="1.1"/>
<line x1="683.20" y1="214.26" x2="689.60" y2="214.26" stroke="#000" stroke-width="1.4"/>
<line x1="710.80" y1="208.68" x2="710.80" y2="200.98" stroke="#000" stroke-width="1.1"/>
<line x1="707.60" y1="200.98" x2="714.00" y2="200.98" stroke="#000" stroke-width="1.4"/>
<line x1="710.80" y1="208.68" x2="710.80" y2="216.38" stroke="#000" stroke-width="1.1"/>
<line x1="707.60" y1="216.38" x2="714.00" y2="216.38" stroke="#000" stroke-width="1.4"/>
<line x1="466.80" y1="91.06" x2="466.80" y2="82.40" stroke="#000" stroke-width="1.1"/>
<line x1="463.60" y1="82.40" x2="470.00" y2="82.40" stroke="#000" stroke-width="1.4"/>
<line x1="466.80" y1="91.06" x2="466.80" y2="102.03" stroke="#000" stroke-width="1.1"/>
<line x1="463.60" y1="102.03" x2="470.00" y2="102.03" stroke="#000" stroke-width="1.4"/>
<line x1="491.20" y1="80.09" x2="491.20" y2="66.61" stroke="#000" stroke-width="1.1"/>
<line x1="488.00" y1="66.61" x2="494.40" y2="66.61" stroke="#000" stroke-width="1.4"/>
<line x1="491.20" y1="80.09" x2="491.20" y2="93.56" stroke="#000" stroke-width="1.1"/>
<line x1="488.00" y1="93.56" x2="494.40" y2="93.56" stroke="#000" stroke-width="1.4"/>
<line x1="515.60" y1="112.62" x2="515.60" y2="97.22" stroke="#000" stroke-width="1.1"/>
<line x1="512.40" y1="97.22" x2="518.80" y2="97.22" stroke="#000" stroke-width="1.4"/>
<line x1="515.60" y1="112.62" x2="515.60" y2="128.02" stroke="#000" stroke-width="1.1"/>
<line x1="512.40" y1="128.02" x2="518.80" y2="128.02" stroke="#000" stroke-width="1.4"/>
<line x1="540.00" y1="171.91" x2="540.00" y2="156.51" stroke="#000" stroke-width="1.1"/>
<line x1="536.80" y1="156.51" x2="543.20" y2="156.51" stroke="#000" stroke-width="1.4"/>
<line x1="540.00" y1="171.91" x2="540.00" y2="187.31" stroke="#000" stroke-width="1.1"/>
<line x1="536.80" y1="187.31" x2="543.20" y2="187.31" stroke="#000" stroke-width="1.4"/>
<line x1="564.40" y1="206.37" x2="564.40" y2="199.63" stroke="#000" stroke-width="1.1"/>
<line x1="561.20" y1="199.63" x2="567.60" y2="199.63" stroke="#000" stroke-width="1.4"/>
<line x1="564.40" y1="206.37" x2="564.40" y2="213.11" stroke="#000" stroke-width="1.1"/>
<line x1="561.20" y1="213.11" x2="567.60" y2="213.11" stroke="#000" stroke-width="1.4"/>
<line x1="588.80" y1="214.26" x2="588.80" y2="205.41" stroke="#000" stroke-width="1.1"/>
<line x1="585.60" y1="205.41" x2="592.00" y2="205.41" stroke="#000" stroke-width="1.4"/>
<line x1="588.80" y1="214.26" x2="588.80" y2="223.12" stroke="#000" stroke-width="1.1"/>
<line x1="585.60" y1="223.12" x2="592.00" y2="223.12" stroke="#000" stroke-width="1.4"/>
<line x1="613.20" y1="214.84" x2="613.20" y2="207.14" stroke="#000" stroke-width="1.1"/>
<line x1="610.00" y1="207.14" x2="616.40" y2="207.14" stroke="#000" stroke-width="1.4"/>
<line x1="613.20" y1="214.84" x2="613.20" y2="222.54" stroke="#000" stroke-width="1.1"/>
<line x1="610.00" y1="222.54" x2="616.40" y2="222.54" stroke="#000" stroke-width="1.4"/>
<line x1="637.60" y1="220.81" x2="637.60" y2="213.11" stroke="#000" stroke-width="1.1"/>
<line x1="634.40" y1="213.11" x2="640.80" y2="213.11" stroke="#000" stroke-width="1.4"/>
<line x1="637.60" y1="220.81" x2="637.60" y2="228.51" stroke="#000" stroke-width="1.1"/>
<line x1="634.40" y1="228.51" x2="640.80" y2="228.51" stroke="#000" stroke-width="1.4"/>
<line x1="662.00" y1="221.19" x2="662.00" y2="212.72" stroke="#000" stroke-width="1.1"/>
<line x1="658.80" y1="212.72" x2="665.20" y2="212.72" stroke="#000" stroke-width="1.4"/>
<line x1="662.00" y1="221.19" x2="662.00" y2="229.66" stroke="#000" stroke-width="1.1"/>
<line x1="658.80" y1="229.66" x2="665.20" y2="229.66" stroke="#000" stroke-width="1.4"/>
<line x1="686.40" y1="217.92" x2="686.40" y2="209.45" stroke="#000" stroke-width="1.1"/>
<line x1="683.20" y1="209.45" x2="689.60" y2="209.45" stroke="#000" stroke-width="1.4"/>
<line x1="686.40" y1="217.92" x2="686.40" y2="226.39" stroke="#000" stroke-width="1.1"/>
<line x1="683.20" y1="226.39" x2="689.60" y2="226.39" stroke="#000" stroke-width="1.4"/>
<line x1="710.80" y1="213.88" x2="710.80" y2="205.41" stroke="#000" stroke-width="1.1"/>
<line x1="707.60" y1="205.41" x2="714.00" y2="205.41" stroke="#000" stroke-width="1.4"/>
<line x1="710.80" y1="213.88" x2="710.80" y2="222.35" stroke="#000" stroke-width="1.1"/>
<line x1="707.60" y1="222.35" x2="714.00" y2="222.35" stroke="#000" stroke-width="1.4"/>
<polyline fill="none" stroke="#000" stroke-width="1.35" stroke-linejoin="round" points="466.80,61.03 491.20,58.91 515.60,86.63 540.00,130.91 564.40,164.02 588.80,160.17 613.20,167.87 637.60,181.34 662.00,183.46 686.40,185.39 710.80,187.31"/>
<polyline fill="none" stroke="#000" stroke-width="1.35" stroke-linejoin="round" points="466.80,57.18 491.20,45.63 515.60,70.85 540.00,136.49 564.40,185.19 588.80,207.91 613.20,213.88 637.60,216.00 662.00,223.69 686.40,229.66 710.80,233.51"/>
<polyline fill="none" stroke="#000" stroke-width="1.35" stroke-linejoin="round" points="466.80,68.92 491.20,83.17 515.60,153.24 540.00,207.33 564.40,220.23 588.80,215.22 613.20,235.63 637.60,255.26 662.00,261.23"/>
<polyline fill="none" stroke="#000" stroke-width="1.35" stroke-linejoin="round" points="466.80,87.98 491.20,98.57 515.60,118.01 540.00,171.34 564.40,213.88 588.80,212.34 613.20,207.91 637.60,210.80 662.00,208.68 686.40,206.56 710.80,208.68"/>
<polyline fill="none" stroke="#000" stroke-width="1.35" stroke-linejoin="round" points="466.80,91.06 491.20,80.09 515.60,112.62 540.00,171.91 564.40,206.37 588.80,214.26 613.20,214.84 637.60,220.81 662.00,221.19 686.40,217.92 710.80,213.88"/>
<circle cx="466.80" cy="61.03" r="4.15" fill="#000"/>
<circle cx="491.20" cy="58.91" r="4.15" fill="#000"/>
<circle cx="515.60" cy="86.63" r="4.15" fill="#000"/>
<circle cx="540.00" cy="130.91" r="4.15" fill="#000"/>
<circle cx="564.40" cy="164.02" r="4.15" fill="#000"/>
<circle cx="588.80" cy="160.17" r="4.15" fill="#000"/>
<circle cx="613.20" cy="167.87" r="4.15" fill="#000"/>
<circle cx="637.60" cy="181.34" r="4.15" fill="#000"/>
<circle cx="662.00" cy="183.46" r="4.15" fill="#000"/>
<circle cx="686.40" cy="185.39" r="4.15" fill="#000"/>
<circle cx="710.80" cy="187.31" r="4.15" fill="#000"/>
<path d="M466.80,52.18L471.55,57.18L466.80,62.18L462.05,57.18Z" fill="#000"/>
<path d="M491.20,40.63L495.95,45.63L491.20,50.63L486.45,45.63Z" fill="#000"/>
<path d="M515.60,65.85L520.35,70.85L515.60,75.85L510.85,70.85Z" fill="#000"/>
<path d="M540.00,131.49L544.75,136.49L540.00,141.49L535.25,136.49Z" fill="#000"/>
<path d="M564.40,180.19L569.15,185.19L564.40,190.19L559.65,185.19Z" fill="#000"/>
<path d="M588.80,202.91L593.55,207.91L588.80,212.91L584.05,207.91Z" fill="#000"/>
<path d="M613.20,208.88L617.95,213.88L613.20,218.88L608.45,213.88Z" fill="#000"/>
<path d="M637.60,211.00L642.35,216.00L637.60,221.00L632.85,216.00Z" fill="#000"/>
<path d="M662.00,218.69L666.75,223.69L662.00,228.69L657.25,223.69Z" fill="#000"/>
<path d="M686.40,224.66L691.15,229.66L686.40,234.66L681.65,229.66Z" fill="#000"/>
<path d="M710.80,228.51L715.55,233.51L710.80,238.51L706.05,233.51Z" fill="#000"/>
<path d="M466.80,72.52L470.22,66.69L463.38,66.69Z" fill="#999" stroke="#000" stroke-width="1.6" stroke-linejoin="round"/>
<path d="M491.20,86.77L494.62,80.94L487.78,80.94Z" fill="#999" stroke="#000" stroke-width="1.6" stroke-linejoin="round"/>
<path d="M515.60,156.84L519.02,151.01L512.18,151.01Z" fill="#999" stroke="#000" stroke-width="1.6" stroke-linejoin="round"/>
<path d="M540.00,210.93L543.42,205.10L536.58,205.10Z" fill="#999" stroke="#000" stroke-width="1.6" stroke-linejoin="round"/>
<path d="M564.40,223.83L567.82,218.00L560.98,218.00Z" fill="#999" stroke="#000" stroke-width="1.6" stroke-linejoin="round"/>
<path d="M588.80,218.82L592.22,212.99L585.38,212.99Z" fill="#999" stroke="#000" stroke-width="1.6" stroke-linejoin="round"/>
<path d="M613.20,239.23L616.62,233.40L609.78,233.40Z" fill="#999" stroke="#000" stroke-width="1.6" stroke-linejoin="round"/>
<path d="M637.60,258.87L641.02,253.03L634.18,253.03Z" fill="#999" stroke="#000" stroke-width="1.6" stroke-linejoin="round"/>
<path d="M662.00,264.83L665.42,259.00L658.58,259.00Z" fill="#999" stroke="#000" stroke-width="1.6" stroke-linejoin="round"/>
<rect x="463.60" y="84.78" width="6.40" height="6.40" fill="#fff" stroke="#000" stroke-width="1.3"/>
<rect x="488.00" y="95.37" width="6.40" height="6.40" fill="#fff" stroke="#000" stroke-width="1.3"/>
<rect x="512.40" y="114.81" width="6.40" height="6.40" fill="#fff" stroke="#000" stroke-width="1.3"/>
<rect x="536.80" y="168.14" width="6.40" height="6.40" fill="#fff" stroke="#000" stroke-width="1.3"/>
<rect x="561.20" y="210.68" width="6.40" height="6.40" fill="#fff" stroke="#000" stroke-width="1.3"/>
<rect x="585.60" y="209.14" width="6.40" height="6.40" fill="#fff" stroke="#000" stroke-width="1.3"/>
<rect x="610.00" y="204.71" width="6.40" height="6.40" fill="#fff" stroke="#000" stroke-width="1.3"/>
<rect x="634.40" y="207.60" width="6.40" height="6.40" fill="#fff" stroke="#000" stroke-width="1.3"/>
<rect x="658.80" y="205.48" width="6.40" height="6.40" fill="#fff" stroke="#000" stroke-width="1.3"/>
<rect x="683.20" y="203.36" width="6.40" height="6.40" fill="#fff" stroke="#000" stroke-width="1.3"/>
<rect x="707.60" y="205.48" width="6.40" height="6.40" fill="#fff" stroke="#000" stroke-width="1.3"/>
<path d="M466.80,86.98L470.03,93.17L463.57,93.17Z" fill="#fff" stroke="#000" stroke-width="1.4" stroke-linejoin="round"/>
<path d="M491.20,76.01L494.43,82.20L487.97,82.20Z" fill="#fff" stroke="#000" stroke-width="1.4" stroke-linejoin="round"/>
<path d="M515.60,108.54L518.83,114.73L512.37,114.73Z" fill="#fff" stroke="#000" stroke-width="1.4" stroke-linejoin="round"/>
<path d="M540.00,167.83L543.23,174.02L536.77,174.02Z" fill="#fff" stroke="#000" stroke-width="1.4" stroke-linejoin="round"/>
<path d="M564.40,202.29L567.63,208.48L561.17,208.48Z" fill="#fff" stroke="#000" stroke-width="1.4" stroke-linejoin="round"/>
<path d="M588.80,210.18L592.03,216.37L585.57,216.37Z" fill="#fff" stroke="#000" stroke-width="1.4" stroke-linejoin="round"/>
<path d="M613.20,210.76L616.43,216.95L609.97,216.95Z" fill="#fff" stroke="#000" stroke-width="1.4" stroke-linejoin="round"/>
<path d="M637.60,216.73L640.83,222.92L634.37,222.92Z" fill="#fff" stroke="#000" stroke-width="1.4" stroke-linejoin="round"/>
<path d="M662.00,217.11L665.23,223.30L658.77,223.30Z" fill="#fff" stroke="#000" stroke-width="1.4" stroke-linejoin="round"/>
<path d="M686.40,213.84L689.63,220.03L683.17,220.03Z" fill="#fff" stroke="#000" stroke-width="1.4" stroke-linejoin="round"/>
<path d="M710.80,209.80L714.03,215.99L707.57,215.99Z" fill="#fff" stroke="#000" stroke-width="1.4" stroke-linejoin="round"/>
<line x1="65.60" y1="433.70" x2="65.60" y2="724.50" stroke="#000" stroke-width="1.2"/>
<line x1="60.50" y1="723.90" x2="353.00" y2="723.90" stroke="#000" stroke-width="1.5"/>
<line x1="61.60" y1="724.00" x2="65.60" y2="724.00" stroke="#000" stroke-width="1.3"/>
<line x1="61.60" y1="665.90" x2="65.60" y2="665.90" stroke="#000" stroke-width="1.3"/>
<line x1="61.60" y1="607.80" x2="65.60" y2="607.80" stroke="#000" stroke-width="1.3"/>
<line x1="61.60" y1="549.70" x2="65.60" y2="549.70" stroke="#000" stroke-width="1.3"/>
<line x1="61.60" y1="491.60" x2="65.60" y2="491.60" stroke="#000" stroke-width="1.3"/>
<line x1="61.60" y1="433.50" x2="65.60" y2="433.50" stroke="#000" stroke-width="1.3"/>
<text x="54.90" y="726.41" font-size="11.5" text-anchor="end" >0</text>
<text x="54.90" y="668.31" font-size="11.5" text-anchor="end" >5</text>
<text x="54.90" y="610.21" font-size="11.5" text-anchor="end" >10</text>
<text x="54.90" y="552.11" font-size="11.5" text-anchor="end" >15</text>
<text x="54.90" y="494.01" font-size="11.5" text-anchor="end" >20</text>
<text x="54.90" y="435.91" font-size="11.5" text-anchor="end" >25</text>
<line x1="85.00" y1="723.90" x2="85.00" y2="727.90" stroke="#000" stroke-width="1.3"/>
<text x="85.00" y="742.00" font-size="11.5" text-anchor="middle" >0</text>
<line x1="133.66" y1="723.90" x2="133.66" y2="727.90" stroke="#000" stroke-width="1.3"/>
<text x="133.66" y="742.00" font-size="11.5" text-anchor="middle" >1</text>
<line x1="182.32" y1="723.90" x2="182.32" y2="727.90" stroke="#000" stroke-width="1.3"/>
<text x="182.32" y="742.00" font-size="11.5" text-anchor="middle" >2</text>
<line x1="230.98" y1="723.90" x2="230.98" y2="727.90" stroke="#000" stroke-width="1.3"/>
<text x="230.98" y="742.00" font-size="11.5" text-anchor="middle" >3</text>
<line x1="279.64" y1="723.90" x2="279.64" y2="727.90" stroke="#000" stroke-width="1.3"/>
<text x="279.64" y="742.00" font-size="11.5" text-anchor="middle" >4</text>
<line x1="328.30" y1="723.90" x2="328.30" y2="727.90" stroke="#000" stroke-width="1.3"/>
<text x="328.30" y="742.00" font-size="11.5" text-anchor="middle" >5</text>
<text x="204.60" y="761.20" font-size="14" text-anchor="middle" >hours</text>
<text x="186.4" y="427.5" font-size="19">DO<tspan font-size="13" dy="5">2</tspan><tspan dy="-5"> i</tspan></text>
<text transform="translate(27.60,578.60) rotate(-90)" font-size="14" text-anchor="middle">(ml kg<tspan font-size="8.5" dy="-7.5">-1</tspan><tspan dy="7.5"> min</tspan><tspan font-size="8.5" dy="-7.5">-1</tspan><tspan dy="7.5"> )</tspan></text>
<text x="134.50" y="459.60" font-size="19" text-anchor="middle" >#</text>
<path d="M342.35,473.10L343.15,469.25A1.15,1.15 0 0 0 340.85,469.25L341.65,473.10ZM342.18,472.80L339.24,470.18A1.15,1.15 0 0 0 338.09,472.17L341.82,473.40ZM341.82,472.80L338.09,474.03A1.15,1.15 0 0 0 339.24,476.02L342.18,473.40ZM341.65,473.10L340.85,476.95A1.15,1.15 0 0 0 343.15,476.95L342.35,473.10ZM341.82,473.40L344.76,476.02A1.15,1.15 0 0 0 345.91,474.03L342.18,472.80ZM342.18,473.40L345.91,472.17A1.15,1.15 0 0 0 344.76,470.18L341.82,472.80Z" fill="#000"/>
<path d="M355.15,473.10L355.95,469.25A1.15,1.15 0 0 0 353.65,469.25L354.45,473.10ZM354.98,472.80L352.04,470.18A1.15,1.15 0 0 0 350.89,472.17L354.62,473.40ZM354.62,472.80L350.89,474.03A1.15,1.15 0 0 0 352.04,476.02L354.98,473.40ZM354.45,473.10L353.65,476.95A1.15,1.15 0 0 0 355.95,476.95L355.15,473.10ZM354.62,473.40L357.56,476.02A1.15,1.15 0 0 0 358.71,474.03L354.98,472.80ZM354.98,473.40L358.71,472.17A1.15,1.15 0 0 0 357.56,470.18L354.62,472.80Z" fill="#000"/>
<path d="M367.95,473.10L368.75,469.25A1.15,1.15 0 0 0 366.45,469.25L367.25,473.10ZM367.78,472.80L364.84,470.18A1.15,1.15 0 0 0 363.69,472.17L367.43,473.40ZM367.43,472.80L363.69,474.03A1.15,1.15 0 0 0 364.84,476.02L367.78,473.40ZM367.25,473.10L366.45,476.95A1.15,1.15 0 0 0 368.75,476.95L367.95,473.10ZM367.43,473.40L370.36,476.02A1.15,1.15 0 0 0 371.51,474.03L367.78,472.80ZM367.78,473.40L371.51,472.17A1.15,1.15 0 0 0 370.36,470.18L367.43,472.80Z" fill="#000"/>
<path d="M346.85,548.80L347.65,544.95A1.15,1.15 0 0 0 345.35,544.95L346.15,548.80ZM346.68,548.50L343.74,545.88A1.15,1.15 0 0 0 342.59,547.87L346.32,549.10ZM346.32,548.50L342.59,549.73A1.15,1.15 0 0 0 343.74,551.72L346.68,549.10ZM346.15,548.80L345.35,552.65A1.15,1.15 0 0 0 347.65,552.65L346.85,548.80ZM346.32,549.10L349.26,551.72A1.15,1.15 0 0 0 350.41,549.73L346.68,548.50ZM346.68,549.10L350.41,547.87A1.15,1.15 0 0 0 349.26,545.88L346.32,548.50Z" fill="#000"/>
<path d="M359.65,548.80L360.45,544.95A1.15,1.15 0 0 0 358.15,544.95L358.95,548.80ZM359.48,548.50L356.54,545.88A1.15,1.15 0 0 0 355.39,547.87L359.12,549.10ZM359.12,548.50L355.39,549.73A1.15,1.15 0 0 0 356.54,551.72L359.48,549.10ZM358.95,548.80L358.15,552.65A1.15,1.15 0 0 0 360.45,552.65L359.65,548.80ZM359.12,549.10L362.06,551.72A1.15,1.15 0 0 0 363.21,549.73L359.48,548.50ZM359.48,549.10L363.21,547.87A1.15,1.15 0 0 0 362.06,545.88L359.12,548.50Z" fill="#000"/>
<line x1="85.00" y1="491.60" x2="85.00" y2="475.68" stroke="#000" stroke-width="1.1"/>
<line x1="81.80" y1="475.68" x2="88.20" y2="475.68" stroke="#000" stroke-width="1.4"/>
<line x1="85.00" y1="491.60" x2="85.00" y2="507.52" stroke="#000" stroke-width="1.1"/>
<line x1="81.80" y1="507.52" x2="88.20" y2="507.52" stroke="#000" stroke-width="1.4"/>
<line x1="133.66" y1="525.41" x2="133.66" y2="507.05" stroke="#000" stroke-width="1.1"/>
<line x1="130.46" y1="507.05" x2="136.86" y2="507.05" stroke="#000" stroke-width="1.4"/>
<line x1="133.66" y1="525.41" x2="133.66" y2="543.77" stroke="#000" stroke-width="1.1"/>
<line x1="130.46" y1="543.77" x2="136.86" y2="543.77" stroke="#000" stroke-width="1.4"/>
<line x1="182.32" y1="543.54" x2="182.32" y2="540.06" stroke="#000" stroke-width="1.1"/>
<line x1="179.12" y1="540.06" x2="185.52" y2="540.06" stroke="#000" stroke-width="1.4"/>
<line x1="182.32" y1="543.54" x2="182.32" y2="547.03" stroke="#000" stroke-width="1.1"/>
<line x1="179.12" y1="547.03" x2="185.52" y2="547.03" stroke="#000" stroke-width="1.4"/>
<line x1="230.98" y1="602.69" x2="230.98" y2="592.23" stroke="#000" stroke-width="1.1"/>
<line x1="227.78" y1="592.23" x2="234.18" y2="592.23" stroke="#000" stroke-width="1.4"/>
<line x1="230.98" y1="602.69" x2="230.98" y2="612.68" stroke="#000" stroke-width="1.1"/>
<line x1="227.78" y1="612.68" x2="234.18" y2="612.68" stroke="#000" stroke-width="1.4"/>
<line x1="279.64" y1="614.66" x2="279.64" y2="604.20" stroke="#000" stroke-width="1.1"/>
<line x1="276.44" y1="604.20" x2="282.84" y2="604.20" stroke="#000" stroke-width="1.4"/>
<line x1="279.64" y1="614.66" x2="279.64" y2="626.51" stroke="#000" stroke-width="1.1"/>
<line x1="276.44" y1="626.51" x2="282.84" y2="626.51" stroke="#000" stroke-width="1.4"/>
<line x1="328.30" y1="615.24" x2="328.30" y2="598.85" stroke="#000" stroke-width="1.1"/>
<line x1="325.10" y1="598.85" x2="331.50" y2="598.85" stroke="#000" stroke-width="1.4"/>
<line x1="328.30" y1="615.24" x2="328.30" y2="630.46" stroke="#000" stroke-width="1.1"/>
<line x1="325.10" y1="630.46" x2="331.50" y2="630.46" stroke="#000" stroke-width="1.4"/>
<line x1="85.00" y1="467.55" x2="85.00" y2="448.37" stroke="#000" stroke-width="1.1"/>
<line x1="81.80" y1="448.37" x2="88.20" y2="448.37" stroke="#000" stroke-width="1.4"/>
<line x1="85.00" y1="467.55" x2="85.00" y2="486.72" stroke="#000" stroke-width="1.1"/>
<line x1="81.80" y1="486.72" x2="88.20" y2="486.72" stroke="#000" stroke-width="1.4"/>
<line x1="133.66" y1="534.25" x2="133.66" y2="516.82" stroke="#000" stroke-width="1.1"/>
<line x1="130.46" y1="516.82" x2="136.86" y2="516.82" stroke="#000" stroke-width="1.4"/>
<line x1="133.66" y1="534.25" x2="133.66" y2="552.84" stroke="#000" stroke-width="1.1"/>
<line x1="130.46" y1="552.84" x2="136.86" y2="552.84" stroke="#000" stroke-width="1.4"/>
<line x1="182.32" y1="582.35" x2="182.32" y2="568.41" stroke="#000" stroke-width="1.1"/>
<line x1="179.12" y1="568.41" x2="185.52" y2="568.41" stroke="#000" stroke-width="1.4"/>
<line x1="182.32" y1="582.35" x2="182.32" y2="595.48" stroke="#000" stroke-width="1.1"/>
<line x1="179.12" y1="595.48" x2="185.52" y2="595.48" stroke="#000" stroke-width="1.4"/>
<line x1="230.98" y1="588.98" x2="230.98" y2="577.12" stroke="#000" stroke-width="1.1"/>
<line x1="227.78" y1="577.12" x2="234.18" y2="577.12" stroke="#000" stroke-width="1.4"/>
<line x1="230.98" y1="588.98" x2="230.98" y2="600.60" stroke="#000" stroke-width="1.1"/>
<line x1="227.78" y1="600.60" x2="234.18" y2="600.60" stroke="#000" stroke-width="1.4"/>
<line x1="279.64" y1="599.43" x2="279.64" y2="592.46" stroke="#000" stroke-width="1.1"/>
<line x1="276.44" y1="592.46" x2="282.84" y2="592.46" stroke="#000" stroke-width="1.4"/>
<line x1="279.64" y1="599.43" x2="279.64" y2="606.06" stroke="#000" stroke-width="1.1"/>
<line x1="276.44" y1="606.06" x2="282.84" y2="606.06" stroke="#000" stroke-width="1.4"/>
<line x1="328.30" y1="615.93" x2="328.30" y2="608.38" stroke="#000" stroke-width="1.1"/>
<line x1="325.10" y1="608.38" x2="331.50" y2="608.38" stroke="#000" stroke-width="1.4"/>
<line x1="328.30" y1="615.93" x2="328.30" y2="624.07" stroke="#000" stroke-width="1.1"/>
<line x1="325.10" y1="624.07" x2="331.50" y2="624.07" stroke="#000" stroke-width="1.4"/>
<line x1="85.00" y1="484.40" x2="85.00" y2="461.16" stroke="#000" stroke-width="1.1"/>
<line x1="81.80" y1="461.16" x2="88.20" y2="461.16" stroke="#000" stroke-width="1.4"/>
<line x1="85.00" y1="484.40" x2="85.00" y2="507.64" stroke="#000" stroke-width="1.1"/>
<line x1="81.80" y1="507.64" x2="88.20" y2="507.64" stroke="#000" stroke-width="1.4"/>
<line x1="133.66" y1="557.95" x2="133.66" y2="541.10" stroke="#000" stroke-width="1.1"/>
<line x1="130.46" y1="541.10" x2="136.86" y2="541.10" stroke="#000" stroke-width="1.4"/>
<line x1="133.66" y1="557.95" x2="133.66" y2="574.80" stroke="#000" stroke-width="1.1"/>
<line x1="130.46" y1="574.80" x2="136.86" y2="574.80" stroke="#000" stroke-width="1.4"/>
<line x1="182.32" y1="547.38" x2="182.32" y2="535.76" stroke="#000" stroke-width="1.1"/>
<line x1="179.12" y1="535.76" x2="185.52" y2="535.76" stroke="#000" stroke-width="1.4"/>
<line x1="182.32" y1="547.38" x2="182.32" y2="559.00" stroke="#000" stroke-width="1.1"/>
<line x1="179.12" y1="559.00" x2="185.52" y2="559.00" stroke="#000" stroke-width="1.4"/>
<line x1="230.98" y1="629.65" x2="230.98" y2="621.74" stroke="#000" stroke-width="1.1"/>
<line x1="227.78" y1="621.74" x2="234.18" y2="621.74" stroke="#000" stroke-width="1.4"/>
<line x1="230.98" y1="629.65" x2="230.98" y2="636.73" stroke="#000" stroke-width="1.1"/>
<line x1="227.78" y1="636.73" x2="234.18" y2="636.73" stroke="#000" stroke-width="1.4"/>
<line x1="85.00" y1="498.69" x2="85.00" y2="479.52" stroke="#000" stroke-width="1.1"/>
<line x1="81.80" y1="479.52" x2="88.20" y2="479.52" stroke="#000" stroke-width="1.4"/>
<line x1="85.00" y1="498.69" x2="85.00" y2="517.86" stroke="#000" stroke-width="1.1"/>
<line x1="81.80" y1="517.86" x2="88.20" y2="517.86" stroke="#000" stroke-width="1.4"/>
<line x1="133.66" y1="494.16" x2="133.66" y2="469.17" stroke="#000" stroke-width="1.1"/>
<line x1="130.46" y1="469.17" x2="136.86" y2="469.17" stroke="#000" stroke-width="1.4"/>
<line x1="133.66" y1="494.16" x2="133.66" y2="519.14" stroke="#000" stroke-width="1.1"/>
<line x1="130.46" y1="519.14" x2="136.86" y2="519.14" stroke="#000" stroke-width="1.4"/>
<line x1="182.32" y1="527.74" x2="182.32" y2="502.76" stroke="#000" stroke-width="1.1"/>
<line x1="179.12" y1="502.76" x2="185.52" y2="502.76" stroke="#000" stroke-width="1.4"/>
<line x1="182.32" y1="527.74" x2="182.32" y2="552.72" stroke="#000" stroke-width="1.1"/>
<line x1="179.12" y1="552.72" x2="185.52" y2="552.72" stroke="#000" stroke-width="1.4"/>
<line x1="230.98" y1="489.74" x2="230.98" y2="459.41" stroke="#000" stroke-width="1.1"/>
<line x1="227.78" y1="459.41" x2="234.18" y2="459.41" stroke="#000" stroke-width="1.4"/>
<line x1="230.98" y1="489.74" x2="230.98" y2="519.26" stroke="#000" stroke-width="1.1"/>
<line x1="227.78" y1="519.26" x2="234.18" y2="519.26" stroke="#000" stroke-width="1.4"/>
<line x1="279.64" y1="493.23" x2="279.64" y2="461.85" stroke="#000" stroke-width="1.1"/>
<line x1="276.44" y1="461.85" x2="282.84" y2="461.85" stroke="#000" stroke-width="1.4"/>
<line x1="279.64" y1="493.23" x2="279.64" y2="524.02" stroke="#000" stroke-width="1.1"/>
<line x1="276.44" y1="524.02" x2="282.84" y2="524.02" stroke="#000" stroke-width="1.4"/>
<line x1="328.30" y1="473.12" x2="328.30" y2="435.94" stroke="#000" stroke-width="1.1"/>
<line x1="325.10" y1="435.94" x2="331.50" y2="435.94" stroke="#000" stroke-width="1.4"/>
<line x1="328.30" y1="473.12" x2="328.30" y2="510.54" stroke="#000" stroke-width="1.1"/>
<line x1="325.10" y1="510.54" x2="331.50" y2="510.54" stroke="#000" stroke-width="1.4"/>
<line x1="85.00" y1="472.54" x2="85.00" y2="451.51" stroke="#000" stroke-width="1.1"/>
<line x1="81.80" y1="451.51" x2="88.20" y2="451.51" stroke="#000" stroke-width="1.4"/>
<line x1="85.00" y1="472.54" x2="85.00" y2="493.58" stroke="#000" stroke-width="1.1"/>
<line x1="81.80" y1="493.58" x2="88.20" y2="493.58" stroke="#000" stroke-width="1.4"/>
<line x1="133.66" y1="537.62" x2="133.66" y2="526.00" stroke="#000" stroke-width="1.1"/>
<line x1="130.46" y1="526.00" x2="136.86" y2="526.00" stroke="#000" stroke-width="1.4"/>
<line x1="133.66" y1="537.62" x2="133.66" y2="549.24" stroke="#000" stroke-width="1.1"/>
<line x1="130.46" y1="549.24" x2="136.86" y2="549.24" stroke="#000" stroke-width="1.4"/>
<line x1="182.32" y1="563.76" x2="182.32" y2="548.65" stroke="#000" stroke-width="1.1"/>
<line x1="179.12" y1="548.65" x2="185.52" y2="548.65" stroke="#000" stroke-width="1.4"/>
<line x1="182.32" y1="563.76" x2="182.32" y2="578.87" stroke="#000" stroke-width="1.1"/>
<line x1="179.12" y1="578.87" x2="185.52" y2="578.87" stroke="#000" stroke-width="1.4"/>
<line x1="230.98" y1="539.24" x2="230.98" y2="516.93" stroke="#000" stroke-width="1.1"/>
<line x1="227.78" y1="516.93" x2="234.18" y2="516.93" stroke="#000" stroke-width="1.4"/>
<line x1="230.98" y1="539.24" x2="230.98" y2="562.48" stroke="#000" stroke-width="1.1"/>
<line x1="227.78" y1="562.48" x2="234.18" y2="562.48" stroke="#000" stroke-width="1.4"/>
<line x1="279.64" y1="550.75" x2="279.64" y2="524.02" stroke="#000" stroke-width="1.1"/>
<line x1="276.44" y1="524.02" x2="282.84" y2="524.02" stroke="#000" stroke-width="1.4"/>
<line x1="279.64" y1="550.75" x2="279.64" y2="578.40" stroke="#000" stroke-width="1.1"/>
<line x1="276.44" y1="578.40" x2="282.84" y2="578.40" stroke="#000" stroke-width="1.4"/>
<line x1="328.30" y1="550.75" x2="328.30" y2="521.58" stroke="#000" stroke-width="1.1"/>
<line x1="325.10" y1="521.58" x2="331.50" y2="521.58" stroke="#000" stroke-width="1.4"/>
<line x1="328.30" y1="550.75" x2="328.30" y2="580.03" stroke="#000" stroke-width="1.1"/>
<line x1="325.10" y1="580.03" x2="331.50" y2="580.03" stroke="#000" stroke-width="1.4"/>
<polyline fill="none" stroke="#000" stroke-width="1.35" stroke-linejoin="round" points="85.00,491.60 133.66,525.41 182.32,543.54 230.98,602.69 279.64,614.66 328.30,615.24"/>
<polyline fill="none" stroke="#000" stroke-width="1.35" stroke-linejoin="round" points="85.00,467.55 133.66,534.25 182.32,582.35 230.98,588.98 279.64,599.43 328.30,615.93"/>
<polyline fill="none" stroke="#000" stroke-width="1.35" stroke-linejoin="round" points="85.00,484.40 133.66,557.95 182.32,547.38 230.98,629.65 279.64,710.29"/>
<polyline fill="none" stroke="#000" stroke-width="1.35" stroke-linejoin="round" points="85.00,498.69 133.66,494.16 182.32,527.74 230.98,489.74 279.64,493.23 328.30,473.12"/>
<polyline fill="none" stroke="#000" stroke-width="1.35" stroke-linejoin="round" points="85.00,472.54 133.66,537.62 182.32,563.76 230.98,539.24 279.64,550.75 328.30,550.75"/>
<circle cx="85.00" cy="491.60" r="4.15" fill="#000"/>
<circle cx="133.66" cy="525.41" r="4.15" fill="#000"/>
<circle cx="182.32" cy="543.54" r="4.15" fill="#000"/>
<circle cx="230.98" cy="602.69" r="4.15" fill="#000"/>
<circle cx="279.64" cy="614.66" r="4.15" fill="#000"/>
<circle cx="328.30" cy="615.24" r="4.15" fill="#000"/>
<path d="M85.00,462.55L89.75,467.55L85.00,472.55L80.25,467.55Z" fill="#000"/>
<path d="M133.66,529.25L138.41,534.25L133.66,539.25L128.91,534.25Z" fill="#000"/>
<path d="M182.32,577.35L187.07,582.35L182.32,587.35L177.57,582.35Z" fill="#000"/>
<path d="M230.98,583.98L235.73,588.98L230.98,593.98L226.23,588.98Z" fill="#000"/>
<path d="M279.64,594.43L284.39,599.43L279.64,604.43L274.89,599.43Z" fill="#000"/>
<path d="M328.30,610.93L333.05,615.93L328.30,620.93L323.55,615.93Z" fill="#000"/>
<path d="M85.00,488.00L88.42,482.16L81.58,482.16Z" fill="#ccc" stroke="#000" stroke-width="1.6" stroke-linejoin="round"/>
<path d="M133.66,561.55L137.08,555.72L130.24,555.72Z" fill="#ccc" stroke="#000" stroke-width="1.6" stroke-linejoin="round"/>
<path d="M182.32,550.98L185.74,545.14L178.90,545.14Z" fill="#ccc" stroke="#000" stroke-width="1.6" stroke-linejoin="round"/>
<path d="M230.98,633.25L234.40,627.41L227.56,627.41Z" fill="#ccc" stroke="#000" stroke-width="1.6" stroke-linejoin="round"/>
<path d="M279.64,713.89L283.06,708.06L276.22,708.06Z" fill="#ccc" stroke="#000" stroke-width="1.6" stroke-linejoin="round"/>
<rect x="81.80" y="495.49" width="6.40" height="6.40" fill="#fff" stroke="#000" stroke-width="1.3"/>
<rect x="130.46" y="490.96" width="6.40" height="6.40" fill="#fff" stroke="#000" stroke-width="1.3"/>
<rect x="179.12" y="524.54" width="6.40" height="6.40" fill="#fff" stroke="#000" stroke-width="1.3"/>
<rect x="227.78" y="486.54" width="6.40" height="6.40" fill="#fff" stroke="#000" stroke-width="1.3"/>
<rect x="276.44" y="490.03" width="6.40" height="6.40" fill="#fff" stroke="#000" stroke-width="1.3"/>
<rect x="325.10" y="469.92" width="6.40" height="6.40" fill="#fff" stroke="#000" stroke-width="1.3"/>
<path d="M85.00,468.46L88.23,474.65L81.77,474.65Z" fill="#fff" stroke="#000" stroke-width="1.4" stroke-linejoin="round"/>
<path d="M133.66,533.54L136.89,539.72L130.43,539.72Z" fill="#fff" stroke="#000" stroke-width="1.4" stroke-linejoin="round"/>
<path d="M182.32,559.68L185.55,565.87L179.09,565.87Z" fill="#fff" stroke="#000" stroke-width="1.4" stroke-linejoin="round"/>
<path d="M230.98,535.16L234.21,541.35L227.75,541.35Z" fill="#fff" stroke="#000" stroke-width="1.4" stroke-linejoin="round"/>
<path d="M279.64,546.67L282.87,552.85L276.41,552.85Z" fill="#fff" stroke="#000" stroke-width="1.4" stroke-linejoin="round"/>
<path d="M328.30,546.67L331.53,552.85L325.07,552.85Z" fill="#fff" stroke="#000" stroke-width="1.4" stroke-linejoin="round"/>
<line x1="83.00" y1="600.70" x2="109.80" y2="600.70" stroke="#000" stroke-width="1.3"/>
<circle cx="96.30" cy="600.70" r="3.94" fill="#000"/>
<text x="117.00" y="604.90" font-size="13" text-anchor="start" >Control</text>
<line x1="83.00" y1="627.00" x2="109.80" y2="627.00" stroke="#000" stroke-width="1.3"/>
<path d="M96.30,622.00L101.05,627.00L96.30,632.00L91.55,627.00Z" fill="#000"/>
<text x="117.00" y="631.20" font-size="13" text-anchor="start" >ET<tspan font-size="8.5" dy="3">A</tspan><tspan dy="-3">ra</tspan></text>
<line x1="83.00" y1="650.40" x2="109.80" y2="650.40" stroke="#000" stroke-width="1.3"/>
<path d="M96.30,653.28L99.04,648.61L93.56,648.61Z" fill="#fff" stroke="#000" stroke-width="1.6" stroke-linejoin="round"/>
<text x="117.00" y="654.60" font-size="13" text-anchor="start" >ET<tspan font-size="8.5" dy="3">B</tspan><tspan dy="-3">ra</tspan></text>
<line x1="83.00" y1="673.80" x2="109.80" y2="673.80" stroke="#000" stroke-width="1.3"/>
<rect x="93.58" y="671.08" width="5.44" height="5.44" fill="#fff" stroke="#000" stroke-width="1.3"/>
<text x="117.00" y="678.00" font-size="13" text-anchor="start" >ET<tspan font-size="7.5" dy="3">A+B</tspan><tspan dy="-3">ra</tspan></text>
<line x1="83.00" y1="698.30" x2="109.80" y2="698.30" stroke="#000" stroke-width="1.3"/>
<path d="M96.30,694.22L99.53,700.41L93.07,700.41Z" fill="#fff" stroke="#000" stroke-width="1.4" stroke-linejoin="round"/>
<text x="117.00" y="702.50" font-size="13" text-anchor="start" >ET<tspan font-size="7.5" dy="3">MIX</tspan><tspan dy="-3">ra</tspan></text>
<line x1="442.80" y1="433.70" x2="442.80" y2="723.90" stroke="#000" stroke-width="1.2"/>
<line x1="442.80" y1="723.30" x2="735.40" y2="723.30" stroke="#000" stroke-width="1.5"/>
<line x1="438.80" y1="647.13" x2="442.80" y2="647.13" stroke="#000" stroke-width="1.3"/>
<line x1="438.80" y1="494.40" x2="442.80" y2="494.40" stroke="#000" stroke-width="1.3"/>
<text x="433.00" y="725.91" font-size="11.5" text-anchor="end" >0</text>
<text x="433.00" y="649.54" font-size="11.5" text-anchor="end" >500</text>
<text x="433.00" y="496.81" font-size="11.5" text-anchor="end" >1500</text>
<line x1="467.00" y1="723.30" x2="467.00" y2="727.30" stroke="#000" stroke-width="1.3"/>
<text x="467.00" y="742.20" font-size="11.5" text-anchor="middle" >0</text>
<line x1="515.78" y1="723.30" x2="515.78" y2="727.30" stroke="#000" stroke-width="1.3"/>
<text x="515.78" y="742.20" font-size="11.5" text-anchor="middle" >1</text>
<line x1="564.56" y1="723.30" x2="564.56" y2="727.30" stroke="#000" stroke-width="1.3"/>
<text x="564.56" y="742.20" font-size="11.5" text-anchor="middle" >2</text>
<line x1="613.34" y1="723.30" x2="613.34" y2="727.30" stroke="#000" stroke-width="1.3"/>
<text x="613.34" y="742.20" font-size="11.5" text-anchor="middle" >3</text>
<line x1="662.12" y1="723.30" x2="662.12" y2="727.30" stroke="#000" stroke-width="1.3"/>
<text x="662.12" y="742.20" font-size="11.5" text-anchor="middle" >4</text>
<line x1="710.90" y1="723.30" x2="710.90" y2="727.30" stroke="#000" stroke-width="1.3"/>
<text x="710.90" y="742.20" font-size="11.5" text-anchor="middle" >5</text>
<text x="588.00" y="761.20" font-size="14" text-anchor="middle" >hours</text>
<text x="596.30" y="436.60" font-size="19" text-anchor="middle" >SVRI</text>
<text transform="translate(417.50,573.10) rotate(-90)" font-size="14" text-anchor="middle">(mmHg min kg l<tspan font-size="8.5" dy="-7.5">-1</tspan><tspan dy="7.5">)</tspan></text>
<text x="509.00" y="456.40" font-size="19" text-anchor="middle" >#</text>
<text x="524.30" y="455.90" font-size="20" text-anchor="middle" >§</text>
<path d="M726.75,641.00L727.55,637.15A1.15,1.15 0 0 0 725.25,637.15L726.05,641.00ZM726.57,640.70L723.64,638.08A1.15,1.15 0 0 0 722.49,640.07L726.23,641.30ZM726.23,640.70L722.49,641.93A1.15,1.15 0 0 0 723.64,643.92L726.57,641.30ZM726.05,641.00L725.25,644.85A1.15,1.15 0 0 0 727.55,644.85L726.75,641.00ZM726.23,641.30L729.16,643.92A1.15,1.15 0 0 0 730.31,641.93L726.57,640.70ZM726.57,641.30L730.31,640.07A1.15,1.15 0 0 0 729.16,638.08L726.23,640.70Z" fill="#000"/>
<path d="M739.35,641.00L740.15,637.15A1.15,1.15 0 0 0 737.85,637.15L738.65,641.00ZM739.17,640.70L736.24,638.08A1.15,1.15 0 0 0 735.09,640.07L738.83,641.30ZM738.83,640.70L735.09,641.93A1.15,1.15 0 0 0 736.24,643.92L739.17,641.30ZM738.65,641.00L737.85,644.85A1.15,1.15 0 0 0 740.15,644.85L739.35,641.00ZM738.83,641.30L741.76,643.92A1.15,1.15 0 0 0 742.91,641.93L739.17,640.70ZM739.17,641.30L742.91,640.07A1.15,1.15 0 0 0 741.76,638.08L738.83,640.70Z" fill="#000"/>
<path d="M726.35,661.60L727.15,657.75A1.15,1.15 0 0 0 724.85,657.75L725.65,661.60ZM726.17,661.30L723.24,658.68A1.15,1.15 0 0 0 722.09,660.67L725.83,661.90ZM725.83,661.30L722.09,662.53A1.15,1.15 0 0 0 723.24,664.52L726.17,661.90ZM725.65,661.60L724.85,665.45A1.15,1.15 0 0 0 727.15,665.45L726.35,661.60ZM725.83,661.90L728.76,664.52A1.15,1.15 0 0 0 729.91,662.53L726.17,661.30ZM726.17,661.90L729.91,660.67A1.15,1.15 0 0 0 728.76,658.68L725.83,661.30Z" fill="#000"/>
<path d="M738.95,661.60L739.75,657.75A1.15,1.15 0 0 0 737.45,657.75L738.25,661.60ZM738.77,661.30L735.84,658.68A1.15,1.15 0 0 0 734.69,660.67L738.43,661.90ZM738.43,661.30L734.69,662.53A1.15,1.15 0 0 0 735.84,664.52L738.77,661.90ZM738.25,661.60L737.45,665.45A1.15,1.15 0 0 0 739.75,665.45L738.95,661.60ZM738.43,661.90L741.36,664.52A1.15,1.15 0 0 0 742.51,662.53L738.77,661.30ZM738.77,661.90L742.51,660.67A1.15,1.15 0 0 0 741.36,658.68L738.43,661.30Z" fill="#000"/>
<path d="M751.55,661.60L752.35,657.75A1.15,1.15 0 0 0 750.05,657.75L750.85,661.60ZM751.38,661.30L748.44,658.68A1.15,1.15 0 0 0 747.29,660.67L751.03,661.90ZM751.03,661.30L747.29,662.53A1.15,1.15 0 0 0 748.44,664.52L751.38,661.90ZM750.85,661.60L750.05,665.45A1.15,1.15 0 0 0 752.35,665.45L751.55,661.60ZM751.03,661.90L753.96,664.52A1.15,1.15 0 0 0 755.11,662.53L751.38,661.30ZM751.38,661.90L755.11,660.67A1.15,1.15 0 0 0 753.96,658.68L751.03,661.30Z" fill="#000"/>
<path d="M726.35,677.40L727.15,673.55A1.15,1.15 0 0 0 724.85,673.55L725.65,677.40ZM726.17,677.10L723.24,674.48A1.15,1.15 0 0 0 722.09,676.47L725.83,677.70ZM725.83,677.10L722.09,678.33A1.15,1.15 0 0 0 723.24,680.32L726.17,677.70ZM725.65,677.40L724.85,681.25A1.15,1.15 0 0 0 727.15,681.25L726.35,677.40ZM725.83,677.70L728.76,680.32A1.15,1.15 0 0 0 729.91,678.33L726.17,677.10ZM726.17,677.70L729.91,676.47A1.15,1.15 0 0 0 728.76,674.48L725.83,677.10Z" fill="#000"/>
<path d="M738.95,677.40L739.75,673.55A1.15,1.15 0 0 0 737.45,673.55L738.25,677.40ZM738.77,677.10L735.84,674.48A1.15,1.15 0 0 0 734.69,676.47L738.43,677.70ZM738.43,677.10L734.69,678.33A1.15,1.15 0 0 0 735.84,680.32L738.77,677.70ZM738.25,677.40L737.45,681.25A1.15,1.15 0 0 0 739.75,681.25L738.95,677.40ZM738.43,677.70L741.36,680.32A1.15,1.15 0 0 0 742.51,678.33L738.77,677.10ZM738.77,677.70L742.51,676.47A1.15,1.15 0 0 0 741.36,674.48L738.43,677.10Z" fill="#000"/>
<line x1="467.00" y1="552.44" x2="467.00" y2="525.56" stroke="#000" stroke-width="1.1"/>
<line x1="463.80" y1="525.56" x2="470.20" y2="525.56" stroke="#000" stroke-width="1.4"/>
<line x1="467.00" y1="552.44" x2="467.00" y2="561.00" stroke="#000" stroke-width="1.1"/>
<line x1="463.80" y1="561.00" x2="470.20" y2="561.00" stroke="#000" stroke-width="1.4"/>
<line x1="491.39" y1="506.62" x2="491.39" y2="480.35" stroke="#000" stroke-width="1.1"/>
<line x1="488.19" y1="480.35" x2="494.59" y2="480.35" stroke="#000" stroke-width="1.4"/>
<line x1="515.78" y1="536.25" x2="515.78" y2="516.55" stroke="#000" stroke-width="1.1"/>
<line x1="512.58" y1="516.55" x2="518.98" y2="516.55" stroke="#000" stroke-width="1.4"/>
<line x1="515.78" y1="536.25" x2="515.78" y2="553.21" stroke="#000" stroke-width="1.1"/>
<line x1="512.58" y1="553.21" x2="518.98" y2="553.21" stroke="#000" stroke-width="1.4"/>
<line x1="540.17" y1="589.56" x2="540.17" y2="576.12" stroke="#000" stroke-width="1.1"/>
<line x1="536.97" y1="576.12" x2="543.37" y2="576.12" stroke="#000" stroke-width="1.4"/>
<line x1="540.17" y1="589.56" x2="540.17" y2="603.00" stroke="#000" stroke-width="1.1"/>
<line x1="536.97" y1="603.00" x2="543.37" y2="603.00" stroke="#000" stroke-width="1.4"/>
<line x1="564.56" y1="605.75" x2="564.56" y2="592.46" stroke="#000" stroke-width="1.1"/>
<line x1="561.36" y1="592.46" x2="567.76" y2="592.46" stroke="#000" stroke-width="1.4"/>
<line x1="564.56" y1="605.75" x2="564.56" y2="619.03" stroke="#000" stroke-width="1.1"/>
<line x1="561.36" y1="619.03" x2="567.76" y2="619.03" stroke="#000" stroke-width="1.4"/>
<line x1="588.95" y1="569.55" x2="588.95" y2="550.00" stroke="#000" stroke-width="1.1"/>
<line x1="585.75" y1="550.00" x2="592.15" y2="550.00" stroke="#000" stroke-width="1.4"/>
<line x1="588.95" y1="569.55" x2="588.95" y2="588.94" stroke="#000" stroke-width="1.1"/>
<line x1="585.75" y1="588.94" x2="592.15" y2="588.94" stroke="#000" stroke-width="1.4"/>
<line x1="613.34" y1="571.23" x2="613.34" y2="557.48" stroke="#000" stroke-width="1.1"/>
<line x1="610.14" y1="557.48" x2="616.54" y2="557.48" stroke="#000" stroke-width="1.4"/>
<line x1="613.34" y1="571.23" x2="613.34" y2="584.97" stroke="#000" stroke-width="1.1"/>
<line x1="610.14" y1="584.97" x2="616.54" y2="584.97" stroke="#000" stroke-width="1.4"/>
<line x1="637.73" y1="581.46" x2="637.73" y2="566.04" stroke="#000" stroke-width="1.1"/>
<line x1="634.53" y1="566.04" x2="640.93" y2="566.04" stroke="#000" stroke-width="1.4"/>
<line x1="637.73" y1="581.46" x2="637.73" y2="596.73" stroke="#000" stroke-width="1.1"/>
<line x1="634.53" y1="596.73" x2="640.93" y2="596.73" stroke="#000" stroke-width="1.4"/>
<line x1="662.12" y1="586.20" x2="662.12" y2="570.16" stroke="#000" stroke-width="1.1"/>
<line x1="658.92" y1="570.16" x2="665.32" y2="570.16" stroke="#000" stroke-width="1.4"/>
<line x1="662.12" y1="586.20" x2="662.12" y2="601.93" stroke="#000" stroke-width="1.1"/>
<line x1="658.92" y1="601.93" x2="665.32" y2="601.93" stroke="#000" stroke-width="1.4"/>
<line x1="686.51" y1="584.36" x2="686.51" y2="568.94" stroke="#000" stroke-width="1.1"/>
<line x1="683.31" y1="568.94" x2="689.71" y2="568.94" stroke="#000" stroke-width="1.4"/>
<line x1="686.51" y1="584.36" x2="686.51" y2="599.64" stroke="#000" stroke-width="1.1"/>
<line x1="683.31" y1="599.64" x2="689.71" y2="599.64" stroke="#000" stroke-width="1.4"/>
<line x1="710.90" y1="587.72" x2="710.90" y2="573.52" stroke="#000" stroke-width="1.1"/>
<line x1="707.70" y1="573.52" x2="714.10" y2="573.52" stroke="#000" stroke-width="1.4"/>
<line x1="710.90" y1="587.72" x2="710.90" y2="601.93" stroke="#000" stroke-width="1.1"/>
<line x1="707.70" y1="601.93" x2="714.10" y2="601.93" stroke="#000" stroke-width="1.4"/>
<line x1="467.00" y1="574.28" x2="467.00" y2="560.54" stroke="#000" stroke-width="1.1"/>
<line x1="463.80" y1="560.54" x2="470.20" y2="560.54" stroke="#000" stroke-width="1.4"/>
<line x1="467.00" y1="574.28" x2="467.00" y2="588.03" stroke="#000" stroke-width="1.1"/>
<line x1="463.80" y1="588.03" x2="470.20" y2="588.03" stroke="#000" stroke-width="1.4"/>
<line x1="491.39" y1="514.87" x2="491.39" y2="499.60" stroke="#000" stroke-width="1.1"/>
<line x1="488.19" y1="499.60" x2="494.59" y2="499.60" stroke="#000" stroke-width="1.4"/>
<line x1="491.39" y1="514.87" x2="491.39" y2="530.14" stroke="#000" stroke-width="1.1"/>
<line x1="488.19" y1="530.14" x2="494.59" y2="530.14" stroke="#000" stroke-width="1.4"/>
<line x1="515.78" y1="496.24" x2="515.78" y2="463.71" stroke="#000" stroke-width="1.1"/>
<line x1="512.58" y1="463.71" x2="518.98" y2="463.71" stroke="#000" stroke-width="1.4"/>
<line x1="515.78" y1="496.24" x2="515.78" y2="528.77" stroke="#000" stroke-width="1.1"/>
<line x1="512.58" y1="528.77" x2="518.98" y2="528.77" stroke="#000" stroke-width="1.4"/>
<line x1="540.17" y1="546.79" x2="540.17" y2="517.93" stroke="#000" stroke-width="1.1"/>
<line x1="536.97" y1="517.93" x2="543.37" y2="517.93" stroke="#000" stroke-width="1.4"/>
<line x1="540.17" y1="546.79" x2="540.17" y2="575.96" stroke="#000" stroke-width="1.1"/>
<line x1="536.97" y1="575.96" x2="543.37" y2="575.96" stroke="#000" stroke-width="1.4"/>
<line x1="564.56" y1="593.83" x2="564.56" y2="581.31" stroke="#000" stroke-width="1.1"/>
<line x1="561.36" y1="581.31" x2="567.76" y2="581.31" stroke="#000" stroke-width="1.4"/>
<line x1="564.56" y1="593.83" x2="564.56" y2="606.36" stroke="#000" stroke-width="1.1"/>
<line x1="561.36" y1="606.36" x2="567.76" y2="606.36" stroke="#000" stroke-width="1.4"/>
<line x1="588.95" y1="622.55" x2="588.95" y2="614.30" stroke="#000" stroke-width="1.1"/>
<line x1="585.75" y1="614.30" x2="592.15" y2="614.30" stroke="#000" stroke-width="1.4"/>
<line x1="588.95" y1="622.55" x2="588.95" y2="631.56" stroke="#000" stroke-width="1.1"/>
<line x1="585.75" y1="631.56" x2="592.15" y2="631.56" stroke="#000" stroke-width="1.4"/>
<line x1="613.34" y1="633.85" x2="613.34" y2="624.53" stroke="#000" stroke-width="1.1"/>
<line x1="610.14" y1="624.53" x2="616.54" y2="624.53" stroke="#000" stroke-width="1.4"/>
<line x1="613.34" y1="633.85" x2="613.34" y2="648.66" stroke="#000" stroke-width="1.1"/>
<line x1="610.14" y1="648.66" x2="616.54" y2="648.66" stroke="#000" stroke-width="1.4"/>
<line x1="637.73" y1="629.27" x2="637.73" y2="615.52" stroke="#000" stroke-width="1.1"/>
<line x1="634.53" y1="615.52" x2="640.93" y2="615.52" stroke="#000" stroke-width="1.4"/>
<line x1="637.73" y1="629.27" x2="637.73" y2="643.01" stroke="#000" stroke-width="1.1"/>
<line x1="634.53" y1="643.01" x2="640.93" y2="643.01" stroke="#000" stroke-width="1.4"/>
<line x1="662.12" y1="639.65" x2="662.12" y2="623.77" stroke="#000" stroke-width="1.1"/>
<line x1="658.92" y1="623.77" x2="665.32" y2="623.77" stroke="#000" stroke-width="1.4"/>
<line x1="662.12" y1="639.65" x2="662.12" y2="655.23" stroke="#000" stroke-width="1.1"/>
<line x1="658.92" y1="655.23" x2="665.32" y2="655.23" stroke="#000" stroke-width="1.4"/>
<line x1="686.51" y1="639.65" x2="686.51" y2="627.28" stroke="#000" stroke-width="1.1"/>
<line x1="683.31" y1="627.28" x2="689.71" y2="627.28" stroke="#000" stroke-width="1.4"/>
<line x1="686.51" y1="639.65" x2="686.51" y2="650.95" stroke="#000" stroke-width="1.1"/>
<line x1="683.31" y1="650.95" x2="689.71" y2="650.95" stroke="#000" stroke-width="1.4"/>
<line x1="710.90" y1="640.26" x2="710.90" y2="630.03" stroke="#000" stroke-width="1.1"/>
<line x1="707.70" y1="630.03" x2="714.10" y2="630.03" stroke="#000" stroke-width="1.4"/>
<line x1="710.90" y1="640.26" x2="710.90" y2="649.73" stroke="#000" stroke-width="1.1"/>
<line x1="707.70" y1="649.73" x2="714.10" y2="649.73" stroke="#000" stroke-width="1.4"/>
<line x1="467.00" y1="586.81" x2="467.00" y2="580.24" stroke="#000" stroke-width="1.1"/>
<line x1="463.80" y1="580.24" x2="470.20" y2="580.24" stroke="#000" stroke-width="1.4"/>
<line x1="467.00" y1="586.81" x2="467.00" y2="593.37" stroke="#000" stroke-width="1.1"/>
<line x1="463.80" y1="593.37" x2="470.20" y2="593.37" stroke="#000" stroke-width="1.4"/>
<line x1="491.39" y1="536.25" x2="491.39" y2="525.56" stroke="#000" stroke-width="1.1"/>
<line x1="488.19" y1="525.56" x2="494.59" y2="525.56" stroke="#000" stroke-width="1.4"/>
<line x1="491.39" y1="536.25" x2="491.39" y2="547.40" stroke="#000" stroke-width="1.1"/>
<line x1="488.19" y1="547.40" x2="494.59" y2="547.40" stroke="#000" stroke-width="1.4"/>
<line x1="515.78" y1="585.58" x2="515.78" y2="579.48" stroke="#000" stroke-width="1.1"/>
<line x1="512.58" y1="579.48" x2="518.98" y2="579.48" stroke="#000" stroke-width="1.4"/>
<line x1="515.78" y1="585.58" x2="515.78" y2="591.69" stroke="#000" stroke-width="1.1"/>
<line x1="512.58" y1="591.69" x2="518.98" y2="591.69" stroke="#000" stroke-width="1.4"/>
<line x1="540.17" y1="651.11" x2="540.17" y2="643.77" stroke="#000" stroke-width="1.1"/>
<line x1="536.97" y1="643.77" x2="543.37" y2="643.77" stroke="#000" stroke-width="1.4"/>
<line x1="540.17" y1="651.11" x2="540.17" y2="659.51" stroke="#000" stroke-width="1.1"/>
<line x1="536.97" y1="659.51" x2="543.37" y2="659.51" stroke="#000" stroke-width="1.4"/>
<line x1="564.56" y1="666.38" x2="564.56" y2="661.34" stroke="#000" stroke-width="1.1"/>
<line x1="561.36" y1="661.34" x2="567.76" y2="661.34" stroke="#000" stroke-width="1.4"/>
<line x1="564.56" y1="666.38" x2="564.56" y2="671.42" stroke="#000" stroke-width="1.1"/>
<line x1="561.36" y1="671.42" x2="567.76" y2="671.42" stroke="#000" stroke-width="1.4"/>
<line x1="588.95" y1="648.05" x2="588.95" y2="638.73" stroke="#000" stroke-width="1.1"/>
<line x1="585.75" y1="638.73" x2="592.15" y2="638.73" stroke="#000" stroke-width="1.4"/>
<line x1="588.95" y1="648.05" x2="588.95" y2="652.63" stroke="#000" stroke-width="1.1"/>
<line x1="585.75" y1="652.63" x2="592.15" y2="652.63" stroke="#000" stroke-width="1.4"/>
<line x1="613.34" y1="636.29" x2="613.34" y2="631.71" stroke="#000" stroke-width="1.1"/>
<line x1="610.14" y1="631.71" x2="616.54" y2="631.71" stroke="#000" stroke-width="1.4"/>
<line x1="613.34" y1="636.29" x2="613.34" y2="640.87" stroke="#000" stroke-width="1.1"/>
<line x1="610.14" y1="640.87" x2="616.54" y2="640.87" stroke="#000" stroke-width="1.4"/>
<line x1="637.73" y1="640.26" x2="637.73" y2="634.76" stroke="#000" stroke-width="1.1"/>
<line x1="634.53" y1="634.76" x2="640.93" y2="634.76" stroke="#000" stroke-width="1.4"/>
<line x1="637.73" y1="640.26" x2="637.73" y2="645.76" stroke="#000" stroke-width="1.1"/>
<line x1="634.53" y1="645.76" x2="640.93" y2="645.76" stroke="#000" stroke-width="1.4"/>
<line x1="467.00" y1="582.53" x2="467.00" y2="576.42" stroke="#000" stroke-width="1.1"/>
<line x1="463.80" y1="576.42" x2="470.20" y2="576.42" stroke="#000" stroke-width="1.4"/>
<line x1="467.00" y1="582.53" x2="467.00" y2="588.64" stroke="#000" stroke-width="1.1"/>
<line x1="463.80" y1="588.64" x2="470.20" y2="588.64" stroke="#000" stroke-width="1.4"/>
<line x1="491.39" y1="567.10" x2="491.39" y2="554.73" stroke="#000" stroke-width="1.1"/>
<line x1="488.19" y1="554.73" x2="494.59" y2="554.73" stroke="#000" stroke-width="1.4"/>
<line x1="491.39" y1="567.10" x2="491.39" y2="579.63" stroke="#000" stroke-width="1.1"/>
<line x1="488.19" y1="579.63" x2="494.59" y2="579.63" stroke="#000" stroke-width="1.4"/>
<line x1="515.78" y1="591.08" x2="515.78" y2="577.49" stroke="#000" stroke-width="1.1"/>
<line x1="512.58" y1="577.49" x2="518.98" y2="577.49" stroke="#000" stroke-width="1.4"/>
<line x1="515.78" y1="591.08" x2="515.78" y2="600.86" stroke="#000" stroke-width="1.1"/>
<line x1="512.58" y1="600.86" x2="518.98" y2="600.86" stroke="#000" stroke-width="1.4"/>
<line x1="540.17" y1="621.17" x2="540.17" y2="610.48" stroke="#000" stroke-width="1.1"/>
<line x1="536.97" y1="610.48" x2="543.37" y2="610.48" stroke="#000" stroke-width="1.4"/>
<line x1="540.17" y1="621.17" x2="540.17" y2="637.36" stroke="#000" stroke-width="1.1"/>
<line x1="536.97" y1="637.36" x2="543.37" y2="637.36" stroke="#000" stroke-width="1.4"/>
<line x1="564.56" y1="660.12" x2="564.56" y2="649.73" stroke="#000" stroke-width="1.1"/>
<line x1="561.36" y1="649.73" x2="567.76" y2="649.73" stroke="#000" stroke-width="1.4"/>
<line x1="564.56" y1="660.12" x2="564.56" y2="667.75" stroke="#000" stroke-width="1.1"/>
<line x1="561.36" y1="667.75" x2="567.76" y2="667.75" stroke="#000" stroke-width="1.4"/>
<line x1="588.95" y1="674.17" x2="588.95" y2="669.59" stroke="#000" stroke-width="1.1"/>
<line x1="585.75" y1="669.59" x2="592.15" y2="669.59" stroke="#000" stroke-width="1.4"/>
<line x1="588.95" y1="674.17" x2="588.95" y2="679.36" stroke="#000" stroke-width="1.1"/>
<line x1="585.75" y1="679.36" x2="592.15" y2="679.36" stroke="#000" stroke-width="1.4"/>
<line x1="613.34" y1="671.11" x2="613.34" y2="666.53" stroke="#000" stroke-width="1.1"/>
<line x1="610.14" y1="666.53" x2="616.54" y2="666.53" stroke="#000" stroke-width="1.4"/>
<line x1="613.34" y1="671.11" x2="613.34" y2="680.58" stroke="#000" stroke-width="1.1"/>
<line x1="610.14" y1="680.58" x2="616.54" y2="680.58" stroke="#000" stroke-width="1.4"/>
<line x1="637.73" y1="668.67" x2="637.73" y2="664.09" stroke="#000" stroke-width="1.1"/>
<line x1="634.53" y1="664.09" x2="640.93" y2="664.09" stroke="#000" stroke-width="1.4"/>
<line x1="637.73" y1="668.67" x2="637.73" y2="679.36" stroke="#000" stroke-width="1.1"/>
<line x1="634.53" y1="679.36" x2="640.93" y2="679.36" stroke="#000" stroke-width="1.4"/>
<line x1="662.12" y1="670.35" x2="662.12" y2="665.77" stroke="#000" stroke-width="1.1"/>
<line x1="658.92" y1="665.77" x2="665.32" y2="665.77" stroke="#000" stroke-width="1.4"/>
<line x1="662.12" y1="670.35" x2="662.12" y2="681.19" stroke="#000" stroke-width="1.1"/>
<line x1="658.92" y1="681.19" x2="665.32" y2="681.19" stroke="#000" stroke-width="1.4"/>
<line x1="686.51" y1="670.35" x2="686.51" y2="665.77" stroke="#000" stroke-width="1.1"/>
<line x1="683.31" y1="665.77" x2="689.71" y2="665.77" stroke="#000" stroke-width="1.4"/>
<line x1="686.51" y1="670.35" x2="686.51" y2="682.26" stroke="#000" stroke-width="1.1"/>
<line x1="683.31" y1="682.26" x2="689.71" y2="682.26" stroke="#000" stroke-width="1.4"/>
<line x1="710.90" y1="674.17" x2="710.90" y2="669.59" stroke="#000" stroke-width="1.1"/>
<line x1="707.70" y1="669.59" x2="714.10" y2="669.59" stroke="#000" stroke-width="1.4"/>
<line x1="710.90" y1="674.17" x2="710.90" y2="686.39" stroke="#000" stroke-width="1.1"/>
<line x1="707.70" y1="686.39" x2="714.10" y2="686.39" stroke="#000" stroke-width="1.4"/>
<line x1="515.78" y1="543.58" x2="515.78" y2="532.74" stroke="#000" stroke-width="1.1"/>
<line x1="512.58" y1="532.74" x2="518.98" y2="532.74" stroke="#000" stroke-width="1.4"/>
<line x1="515.78" y1="543.58" x2="515.78" y2="554.43" stroke="#000" stroke-width="1.1"/>
<line x1="512.58" y1="554.43" x2="518.98" y2="554.43" stroke="#000" stroke-width="1.4"/>
<line x1="540.17" y1="614.15" x2="540.17" y2="604.98" stroke="#000" stroke-width="1.1"/>
<line x1="536.97" y1="604.98" x2="543.37" y2="604.98" stroke="#000" stroke-width="1.4"/>
<line x1="540.17" y1="614.15" x2="540.17" y2="623.31" stroke="#000" stroke-width="1.1"/>
<line x1="536.97" y1="623.31" x2="543.37" y2="623.31" stroke="#000" stroke-width="1.4"/>
<line x1="637.73" y1="661.64" x2="637.73" y2="659.51" stroke="#000" stroke-width="1.1"/>
<line x1="634.53" y1="659.51" x2="640.93" y2="659.51" stroke="#000" stroke-width="1.4"/>
<line x1="662.12" y1="663.94" x2="662.12" y2="661.80" stroke="#000" stroke-width="1.1"/>
<line x1="658.92" y1="661.80" x2="665.32" y2="661.80" stroke="#000" stroke-width="1.4"/>
<line x1="686.51" y1="662.87" x2="686.51" y2="660.73" stroke="#000" stroke-width="1.1"/>
<line x1="683.31" y1="660.73" x2="689.71" y2="660.73" stroke="#000" stroke-width="1.4"/>
<line x1="710.90" y1="661.64" x2="710.90" y2="659.81" stroke="#000" stroke-width="1.1"/>
<line x1="707.70" y1="659.81" x2="714.10" y2="659.81" stroke="#000" stroke-width="1.4"/>
<polyline fill="none" stroke="#000" stroke-width="1.35" stroke-linejoin="round" points="467.00,552.44 491.39,506.62 515.78,536.25 540.17,589.56 564.56,605.75 588.95,569.55 613.34,571.23 637.73,581.46 662.12,586.20 686.51,584.36 710.90,587.72"/>
<polyline fill="none" stroke="#000" stroke-width="1.35" stroke-linejoin="round" points="467.00,574.28 491.39,514.87 515.78,496.24 540.17,546.79 564.56,593.83 588.95,622.55 613.34,633.85 637.73,629.27 662.12,639.65 686.51,639.65 710.90,640.26"/>
<polyline fill="none" stroke="#000" stroke-width="1.35" stroke-linejoin="round" points="467.00,586.81 491.39,536.25 515.78,585.58 540.17,651.11 564.56,666.38 588.95,648.05 613.34,636.29 637.73,640.26 662.12,463.25"/>
<polyline fill="none" stroke="#000" stroke-width="1.35" stroke-linejoin="round" points="467.00,582.53 491.39,567.10 515.78,591.08 540.17,621.17 564.56,660.12 588.95,674.17 613.34,671.11 637.73,668.67 662.12,670.35 686.51,670.35 710.90,674.17"/>
<polyline fill="none" stroke="#000" stroke-width="1.35" stroke-linejoin="round" points="467.00,604.83 491.39,519.76 515.78,543.58 540.17,614.15 564.56,635.37 588.95,659.20 613.34,659.20 637.73,661.64 662.12,663.94 686.51,662.87 710.90,661.64"/>
<circle cx="467.00" cy="552.44" r="4.15" fill="#000"/>
<circle cx="491.39" cy="506.62" r="4.15" fill="#000"/>
<circle cx="515.78" cy="536.25" r="4.15" fill="#000"/>
<circle cx="540.17" cy="589.56" r="4.15" fill="#000"/>
<circle cx="564.56" cy="605.75" r="4.15" fill="#000"/>
<circle cx="588.95" cy="569.55" r="4.15" fill="#000"/>
<circle cx="613.34" cy="571.23" r="4.15" fill="#000"/>
<circle cx="637.73" cy="581.46" r="4.15" fill="#000"/>
<circle cx="662.12" cy="586.20" r="4.15" fill="#000"/>
<circle cx="686.51" cy="584.36" r="4.15" fill="#000"/>
<circle cx="710.90" cy="587.72" r="4.15" fill="#000"/>
<path d="M467.00,569.28L471.75,574.28L467.00,579.28L462.25,574.28Z" fill="#000"/>
<path d="M491.39,509.87L496.14,514.87L491.39,519.87L486.64,514.87Z" fill="#000"/>
<path d="M515.78,491.24L520.53,496.24L515.78,501.24L511.03,496.24Z" fill="#000"/>
<path d="M540.17,541.79L544.92,546.79L540.17,551.79L535.42,546.79Z" fill="#000"/>
<path d="M564.56,588.83L569.31,593.83L564.56,598.83L559.81,593.83Z" fill="#000"/>
<path d="M588.95,617.55L593.70,622.55L588.95,627.55L584.20,622.55Z" fill="#000"/>
<path d="M613.34,628.85L618.09,633.85L613.34,638.85L608.59,633.85Z" fill="#000"/>
<path d="M637.73,624.27L642.48,629.27L637.73,634.27L632.98,629.27Z" fill="#000"/>
<path d="M662.12,634.65L666.87,639.65L662.12,644.65L657.37,639.65Z" fill="#000"/>
<path d="M686.51,634.65L691.26,639.65L686.51,644.65L681.76,639.65Z" fill="#000"/>
<path d="M710.90,635.26L715.65,640.26L710.90,645.26L706.15,640.26Z" fill="#000"/>
<path d="M467.00,590.41L470.42,584.57L463.58,584.57Z" fill="#ccc" stroke="#000" stroke-width="1.6" stroke-linejoin="round"/>
<path d="M491.39,539.85L494.81,534.02L487.97,534.02Z" fill="#ccc" stroke="#000" stroke-width="1.6" stroke-linejoin="round"/>
<path d="M515.78,589.18L519.20,583.35L512.36,583.35Z" fill="#ccc" stroke="#000" stroke-width="1.6" stroke-linejoin="round"/>
<path d="M540.17,654.71L543.59,648.87L536.75,648.87Z" fill="#ccc" stroke="#000" stroke-width="1.6" stroke-linejoin="round"/>
<path d="M564.56,669.98L567.98,664.15L561.14,664.15Z" fill="#ccc" stroke="#000" stroke-width="1.6" stroke-linejoin="round"/>
<path d="M588.95,651.65L592.37,645.82L585.53,645.82Z" fill="#ccc" stroke="#000" stroke-width="1.6" stroke-linejoin="round"/>
<path d="M613.34,639.89L616.76,634.06L609.92,634.06Z" fill="#ccc" stroke="#000" stroke-width="1.6" stroke-linejoin="round"/>
<path d="M637.73,643.86L641.15,638.03L634.31,638.03Z" fill="#ccc" stroke="#000" stroke-width="1.6" stroke-linejoin="round"/>
<path d="M662.12,466.85L665.54,461.02L658.70,461.02Z" fill="#ccc" stroke="#000" stroke-width="1.6" stroke-linejoin="round"/>
<rect x="463.80" y="579.33" width="6.40" height="6.40" fill="#fff" stroke="#000" stroke-width="1.3"/>
<rect x="488.19" y="563.90" width="6.40" height="6.40" fill="#fff" stroke="#000" stroke-width="1.3"/>
<rect x="512.58" y="587.88" width="6.40" height="6.40" fill="#fff" stroke="#000" stroke-width="1.3"/>
<rect x="536.97" y="617.97" width="6.40" height="6.40" fill="#fff" stroke="#000" stroke-width="1.3"/>
<rect x="561.36" y="656.92" width="6.40" height="6.40" fill="#fff" stroke="#000" stroke-width="1.3"/>
<rect x="585.75" y="670.97" width="6.40" height="6.40" fill="#fff" stroke="#000" stroke-width="1.3"/>
<rect x="610.14" y="667.91" width="6.40" height="6.40" fill="#fff" stroke="#000" stroke-width="1.3"/>
<rect x="634.53" y="665.47" width="6.40" height="6.40" fill="#fff" stroke="#000" stroke-width="1.3"/>
<rect x="658.92" y="667.15" width="6.40" height="6.40" fill="#fff" stroke="#000" stroke-width="1.3"/>
<rect x="683.31" y="667.15" width="6.40" height="6.40" fill="#fff" stroke="#000" stroke-width="1.3"/>
<rect x="707.70" y="670.97" width="6.40" height="6.40" fill="#fff" stroke="#000" stroke-width="1.3"/>
<path d="M467.00,600.75L470.23,606.94L463.77,606.94Z" fill="#fff" stroke="#000" stroke-width="1.4" stroke-linejoin="round"/>
<path d="M491.39,515.68L494.62,521.87L488.16,521.87Z" fill="#fff" stroke="#000" stroke-width="1.4" stroke-linejoin="round"/>
<path d="M515.78,539.50L519.01,545.69L512.55,545.69Z" fill="#fff" stroke="#000" stroke-width="1.4" stroke-linejoin="round"/>
<path d="M540.17,610.07L543.40,616.25L536.94,616.25Z" fill="#fff" stroke="#000" stroke-width="1.4" stroke-linejoin="round"/>
<path d="M564.56,631.29L567.79,637.48L561.33,637.48Z" fill="#fff" stroke="#000" stroke-width="1.4" stroke-linejoin="round"/>
<path d="M588.95,655.12L592.18,661.31L585.72,661.31Z" fill="#fff" stroke="#000" stroke-width="1.4" stroke-linejoin="round"/>
<path d="M613.34,655.12L616.57,661.31L610.11,661.31Z" fill="#fff" stroke="#000" stroke-width="1.4" stroke-linejoin="round"/>
<path d="M637.73,657.56L640.96,663.75L634.50,663.75Z" fill="#fff" stroke="#000" stroke-width="1.4" stroke-linejoin="round"/>
<path d="M662.12,659.86L665.35,666.04L658.89,666.04Z" fill="#fff" stroke="#000" stroke-width="1.4" stroke-linejoin="round"/>
<path d="M686.51,658.79L689.74,664.97L683.28,664.97Z" fill="#fff" stroke="#000" stroke-width="1.4" stroke-linejoin="round"/>
<path d="M710.90,657.56L714.13,663.75L707.67,663.75Z" fill="#fff" stroke="#000" stroke-width="1.4" stroke-linejoin="round"/>
</svg></body></html>
